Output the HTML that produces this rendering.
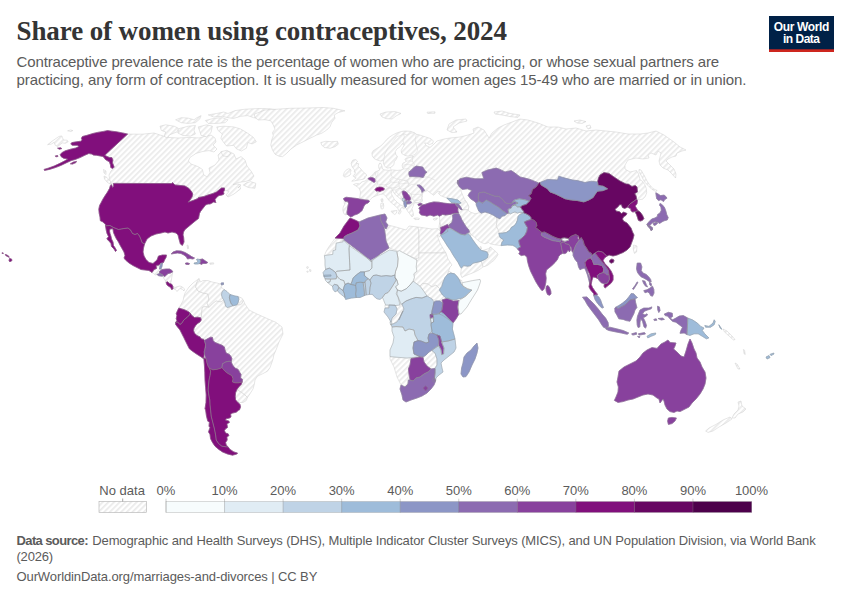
<!DOCTYPE html>
<html lang="en"><head><meta charset="utf-8"><title>Share of women using contraceptives, 2024</title>
<style>html,body{margin:0;padding:0;background:#fff}body{width:850px;height:600px;overflow:hidden}svg{display:block}text{white-space:pre}</style></head><body>
<svg width="850" height="600" viewBox="0 0 850 600">
<defs><pattern id="h" patternUnits="userSpaceOnUse" width="4" height="4" patternTransform="translate(1.18,0) rotate(45)"><rect width="4" height="4" fill="#fff"/><line x1="2.88" y1="-1" x2="2.88" y2="5" stroke="#e7e7e7" stroke-width="1.5"/></pattern></defs>
<rect width="850" height="600" fill="#fff"/>
<text x="16.5" y="40" font-size="27" fill="#343434" font-family='"Liberation Serif", serif' font-weight="bold" textLength="490.5" lengthAdjust="spacing">Share of women using contraceptives, 2024</text>
<text x="16.5" y="67" font-size="15" fill="#5b5b5b" font-family='"Liberation Sans", sans-serif' textLength="702.7" lengthAdjust="spacing">Contraceptive prevalence rate is the percentage of women who are practicing, or whose sexual partners are</text>
<text x="16.5" y="85" font-size="15" fill="#5b5b5b" font-family='"Liberation Sans", sans-serif' textLength="730" lengthAdjust="spacing">practicing, any form of contraception. It is usually measured for women ages 15-49 who are married or in union.</text>
<rect x="769" y="16" width="65" height="36" fill="#002147"/><rect x="769" y="49.3" width="65" height="2.7" fill="#ce261e"/>
<text x="801.5" y="30.5" font-size="12" fill="#fff" font-family='"Liberation Sans", sans-serif' font-weight="bold" text-anchor="middle" textLength="55.5" lengthAdjust="spacing">Our World</text>
<text x="801.5" y="42.5" font-size="12" fill="#fff" font-family='"Liberation Sans", sans-serif' font-weight="bold" text-anchor="middle" textLength="37" lengthAdjust="spacing">in Data</text>
<g stroke-linejoin="round">
<path d="M47.6,144.7L52.9,140.6L58.8,136.5L61.8,135.9L62.4,137.6L63.5,140.0L67.1,140.2L68.2,141.8L65.3,143.3L62.4,142.9L60.0,144.7L57.6,146.5L55.3,145.3L54.1,142.4L51.2,144.1Z" fill="url(#h)" stroke="#cecece" stroke-width="0.5"/>
<path d="M67.6,130.8L70.6,130.0L72.9,130.6L70.8,131.5Z" fill="url(#h)" stroke="#cecece" stroke-width="0.5"/>
<path d="M209.8,263.0L213.5,262.8L213.8,264.0L210.0,264.3Z" fill="url(#h)" stroke="#cecece" stroke-width="0.5"/>
<path d="M187.0,245.0L188.2,245.5L188.6,248.5L187.6,248.8Z" fill="url(#h)" stroke="#cecece" stroke-width="0.5"/>
<path d="M156.0,265.5L159.0,265.0L160.0,266.0L159.5,269.0L161.0,269.0L162.0,269.5L159.5,271.5L159.5,273.5L157.0,274.5L155.5,275.0L153.5,273.5L152.0,272.5L154.0,269.5L156.5,268.5Z" fill="url(#h)" stroke="#cecece" stroke-width="0.5"/>
<path d="M164.5,276.5L166.5,275.0L168.0,273.5L170.5,273.0L172.8,271.8L172.2,275.0L171.5,279.0L171.0,282.5L169.5,283.5L167.5,281.8L166.0,282.5L165.0,280.0L163.5,278.0L163.0,275.2Z" fill="url(#h)" stroke="#cecece" stroke-width="0.5"/>
<path d="M173.0,286.5L175.0,287.5L177.5,286.5L180.0,286.0L182.5,287.0L184.5,289.0L184.0,291.0L182.5,289.5L180.0,288.5L178.5,290.0L177.0,291.5L175.5,289.5L173.5,289.0Z" fill="url(#h)" stroke="#cecece" stroke-width="0.5"/>
<path d="M127.6,134.1L142.0,134.2L154.0,133.0L160.0,135.0L168.0,137.4L178.0,138.0L190.0,137.4L199.0,138.0L206.0,136.0L211.0,135.0L215.0,138.0L216.0,142.0L213.0,145.0L217.0,149.0L214.0,152.0L209.0,150.6L203.0,151.4L196.0,153.4L190.0,157.4L188.4,161.0L191.0,164.0L198.0,166.6L202.4,169.4L203.6,174.6L207.0,177.0L210.0,172.6L209.0,168.0L215.0,165.0L219.0,160.0L218.0,155.0L221.0,152.0L228.0,151.0L234.0,154.0L236.0,159.0L241.0,156.6L245.0,160.0L247.0,166.0L251.0,171.0L254.0,176.0L251.0,180.0L245.0,181.5L238.0,182.5L233.0,184.5L238.0,184.0L241.0,185.0L238.0,188.0L240.0,186.0L240.5,189.0L234.0,194.0L228.0,197.0L226.0,195.0L229.0,191.5L224.5,190.0L224.5,188.0L221.5,188.0L219.0,190.0L216.5,192.0L213.0,193.5L208.0,195.0L204.0,196.5L198.5,197.5L198.0,198.5L193.0,200.5L188.0,202.2L190.0,200.0L192.0,197.0L192.8,194.0L191.5,191.5L189.0,188.5L185.0,186.0L181.0,185.5L175.0,185.0L174.0,184.0L172.4,182.6L172.0,183.6L111.0,184.0L110.0,181.0L109.0,175.0L111.0,171.0L113.6,168.6L114.1,167.1L113.5,165.3L112.4,162.9L112.9,160.0L111.8,157.6L109.4,157.6L104.7,155.3Z" fill="url(#h)" stroke="#cecece" stroke-width="0.5"/>
<path d="M104.0,176.0L107.0,177.5L110.5,181.5L111.0,184.5L107.5,182.5L104.5,179.0Z" fill="url(#h)" stroke="#cecece" stroke-width="0.5"/>
<path d="M103.5,169.5L106.0,171.0L106.0,174.5L104.0,173.0Z" fill="url(#h)" stroke="#cecece" stroke-width="0.5"/>
<path d="M243.3,185.0L247.0,182.5L250.8,181.7L255.8,183.3L255.0,188.3L248.3,187.5Z" fill="url(#h)" stroke="#cecece" stroke-width="0.5"/>
<path d="M160.0,126.2L165.7,124.8L174.2,126.2L178.4,128.3L177.0,131.9L169.9,134.7L167.1,138.2L164.2,136.1L165.7,131.9L161.4,130.5Z" fill="url(#h)" stroke="#cecece" stroke-width="0.5"/>
<path d="M179.1,128.6L188.3,126.2L195.4,125.5L194.0,130.5L195.4,134.0L190.5,136.1L182.7,135.4L177.7,132.9Z" fill="url(#h)" stroke="#cecece" stroke-width="0.5"/>
<path d="M175.6,119.8L181.2,117.7L188.3,118.1L194.0,119.8L196.8,117.7L201.1,115.6L199.7,119.1L195.4,122.7L188.3,123.4L181.2,122.7Z" fill="url(#h)" stroke="#cecece" stroke-width="0.5"/>
<path d="M198.2,126.9L206.7,124.8L212.4,126.2L211.0,132.6L206.7,136.8L201.1,135.4L199.7,131.2Z" fill="url(#h)" stroke="#cecece" stroke-width="0.5"/>
<path d="M205.3,120.5L213.8,118.4L222.3,117.7L228.0,119.8L225.2,122.7L216.7,123.4L208.2,123.4Z" fill="url(#h)" stroke="#cecece" stroke-width="0.5"/>
<path d="M208.2,114.9L216.7,113.5L223.7,112.0L228.0,113.5L235.1,110.6L245.0,109.2L259.2,108.5L270.5,108.8L277.6,109.9L273.3,112.7L264.8,114.9L259.2,118.4L253.5,117.7L247.8,115.6L240.7,116.3L233.7,118.4L228.0,117.7L222.3,116.3L213.8,117.0Z" fill="url(#h)" stroke="#cecece" stroke-width="0.5"/>
<path d="M216.7,126.9L223.7,126.2L233.7,126.9L240.7,129.0L247.8,133.3L253.5,137.5L256.3,141.8L252.1,143.9L247.8,142.5L246.4,148.2L241.4,151.0L236.5,148.9L233.7,145.3L226.6,146.0L223.7,142.5L220.9,138.2L222.3,134.0L218.1,130.5Z" fill="url(#h)" stroke="#cecece" stroke-width="0.5"/>
<path d="M220.9,151.7L226.6,150.3L230.8,153.1L228.0,156.7L223.0,155.9Z" fill="url(#h)" stroke="#cecece" stroke-width="0.5"/>
<path d="M254.2,114.2L265.0,110.0L276.7,109.2L290.0,108.3L306.7,108.0L323.3,107.5L333.3,108.3L345.0,110.8L338.3,112.5L334.2,115.0L335.0,118.3L331.7,122.5L330.0,126.7L326.7,130.0L321.7,133.3L316.7,135.0L310.0,138.3L303.3,141.7L296.7,145.0L290.8,149.2L286.7,153.3L282.5,156.7L279.2,156.3L275.0,154.2L272.5,150.0L270.8,145.0L271.7,140.0L273.3,135.8L272.5,132.5L275.0,129.2L273.3,125.0L270.8,120.8L265.0,119.7L258.3,120.0L255.0,117.5Z" fill="url(#h)" stroke="#cecece" stroke-width="0.5"/>
<path d="M320.8,142.5L325.8,141.3L331.7,141.7L337.5,141.3L338.3,144.2L335.0,146.7L330.0,148.3L324.2,147.5L321.7,145.0Z" fill="url(#h)" stroke="#cecece" stroke-width="0.5"/>
<path d="M236.9,389.4L238.8,390.6L241.9,392.5L245.0,395.0L247.5,397.5L246.2,400.6L243.1,402.5L240.0,402.5L237.5,401.5L235.6,400.0L235.2,396.2L235.6,392.5Z" fill="url(#h)" stroke="#cecece" stroke-width="0.5"/>
<path d="M187.0,290.0L189.0,287.0L193.0,283.0L197.0,280.0L199.0,278.6L197.0,282.0L195.6,287.0L198.0,291.0L203.0,293.0L208.0,294.0L209.0,300.0L207.0,303.0L209.0,307.4L205.0,306.6L202.4,307.4L201.6,313.0L201.2,320.0L200.6,317.8L197.5,317.2L194.4,317.5L191.9,315.6L190.0,313.1L188.8,311.9L185.0,310.0L181.2,308.8L178.8,308.1L180.0,306.0L183.0,301.0L184.0,296.0L185.0,293.0Z" fill="url(#h)" stroke="#cecece" stroke-width="0.5"/>
<path d="M199.0,278.6L200.5,282.0L203.0,280.5L208.0,280.6L212.0,282.0L217.0,283.0L222.0,284.6L221.0,287.0L224.0,289.5L222.0,292.0L221.5,295.0L222.5,298.1L223.8,300.0L221.0,302.0L216.0,301.0L213.0,303.5L209.0,307.4L207.0,303.0L209.0,300.0L208.0,294.0L203.0,293.0L198.0,291.0L195.6,287.0L197.0,282.0Z" fill="url(#h)" stroke="#cecece" stroke-width="0.5"/>
<path d="M238.1,296.5L241.9,298.1L243.5,300.6L241.9,303.8L240.0,305.0L236.9,304.8L238.1,302.5L238.8,299.4Z" fill="url(#h)" stroke="#cecece" stroke-width="0.5"/>
<path d="M209.0,307.4L213.0,303.5L216.0,301.0L221.0,302.0L223.8,300.0L225.0,303.1L225.6,306.2L227.5,307.5L230.6,306.5L233.1,305.6L233.8,305.6L236.9,304.8L240.0,305.0L241.9,303.8L243.5,300.6L245.0,304.0L249.0,310.0L257.0,314.0L266.0,318.0L276.0,322.4L282.0,327.0L283.0,334.0L279.0,342.0L276.0,350.0L273.8,355.0L273.1,358.8L271.9,362.5L270.0,367.5L267.5,371.2L262.5,373.8L257.5,376.2L255.0,380.0L254.4,383.8L253.1,388.8L250.0,393.8L247.5,397.5L245.0,395.0L241.9,392.5L238.8,390.6L236.9,389.4L238.8,386.9L241.2,384.4L242.2,381.9L242.5,379.4L240.6,378.1L241.0,374.4L239.4,371.9L238.1,369.4L235.0,368.1L232.5,365.0L231.2,361.9L231.9,358.8L231.2,356.9L229.4,354.4L226.2,353.1L225.0,350.0L224.4,346.9L221.9,345.2L218.8,344.0L215.0,342.5L213.1,340.6L212.5,337.5L210.6,337.2L207.5,338.8L204.4,340.6L203.8,339.4L201.2,338.8L200.0,336.9L196.9,335.6L194.4,333.1L193.5,330.6L194.0,328.1L195.6,325.6L197.5,323.5L200.0,321.9L201.2,320.0L201.6,313.0L202.4,307.4L205.0,306.6Z" fill="url(#h)" stroke="#cecece" stroke-width="0.5"/>
<path d="M359.8,198.0L360.0,195.5L360.5,192.0L359.5,189.0L357.0,186.5L353.5,184.5L356.5,183.5L360.0,184.0L361.5,182.0L365.0,181.0L368.0,179.0L370.0,177.0L373.0,174.5L375.0,172.0L377.8,170.8L379.7,169.9L378.7,167.6L378.7,164.9L379.7,163.0L381.0,163.5L382.0,166.2L382.4,169.0L384.7,169.9L388.8,170.4L392.5,169.9L397.1,170.4L400.7,170.1L403.5,169.0L402.6,167.6L402.1,165.3L403.0,163.0L404.9,162.6L406.2,161.2L404.9,159.4L406.2,158.0L409.9,157.5L413.6,156.6L411.7,155.7L408.1,156.2L404.4,155.2L401.7,153.4L401.2,150.7L402.6,147.9L404.4,144.7L402.1,143.8L400.3,146.5L397.1,148.8L395.2,151.6L395.7,154.3L397.5,156.6L396.2,159.4L394.3,161.7L393.9,164.4L392.5,166.2L390.2,167.6L387.5,168.1L385.6,167.2L384.2,165.3L383.3,163.0L383.8,160.3L381.0,161.2L377.8,160.3L374.6,158.9L372.3,156.2L371.9,153.0L373.2,150.7L376.9,148.4L380.6,146.1L383.8,142.9L386.5,139.7L389.7,136.9L393.4,134.6L397.1,132.8L401.7,131.4L406.2,131.0L410.8,131.4L414.5,132.8L416.3,134.2L420.0,135.1L425.5,136.9L431.0,138.7L433.3,141.0L432.8,143.3L429.2,144.7L427.3,143.3L424.6,142.9L426.0,145.5L430.0,147.4L434.0,144.0L437.0,141.0L444.0,139.0L450.0,138.0L460.0,137.0L468.0,135.0L474.0,133.0L473.0,129.0L478.0,127.0L484.0,130.0L489.0,138.0L492.0,133.0L498.0,128.0L504.0,125.0L512.0,122.0L520.0,119.0L528.0,120.0L538.0,123.0L548.0,127.0L558.0,127.0L566.0,129.0L576.0,128.0L586.0,131.0L596.0,130.0L606.0,131.0L616.0,132.0L628.0,134.0L640.0,134.0L648.0,133.0L656.0,131.0L664.0,135.0L674.0,142.0L680.0,147.0L686.0,150.0L682.0,151.0L677.0,153.0L676.0,156.0L672.0,157.0L668.0,159.0L666.0,161.0L670.0,165.0L674.0,169.0L676.0,174.0L675.6,178.0L672.0,174.0L668.0,170.0L663.0,168.0L660.0,165.0L659.0,161.0L660.0,157.0L661.0,153.0L658.0,151.0L656.0,155.0L651.0,153.0L648.0,155.0L649.0,158.0L643.0,159.0L636.0,158.0L628.0,160.0L625.0,165.0L625.0,169.0L630.0,172.0L636.5,170.5L638.5,174.0L640.2,180.0L642.1,180.9L644.8,184.6L646.2,188.2L646.7,192.8L645.3,196.5L642.5,199.2L639.3,199.7L636.6,199.2L636.0,197.0L620.0,195.0L560.0,195.0L520.0,190.0L476.0,190.0L462.0,186.0L461.0,191.0L463.0,196.0L465.0,200.0L467.5,203.5L468.8,206.9L468.1,210.0L462.3,210.0L461.3,206.9L458.1,204.0L455.0,203.1L452.0,201.0L448.0,199.0L446.9,197.8L443.8,196.9L440.6,195.6L438.5,193.6L440.0,191.5L437.0,191.8L435.5,193.6L433.8,195.3L430.6,193.1L427.5,190.6L423.8,191.9L422.5,193.8L421.9,197.5L422.5,201.2L420.6,202.5L418.0,203.0L414.4,202.8L413.1,206.2L411.9,208.8L413.1,212.5L413.5,215.5L412.0,217.0L410.5,215.0L409.6,213.6L407.7,211.3L406.3,208.9L405.4,207.5L404.4,206.1L403.9,203.8L403.9,201.4L402.5,200.9L401.1,199.5L398.8,197.6L395.9,195.3L393.6,192.5L392.6,190.1L391.7,191.5L391.2,193.4L392.6,196.2L394.5,199.5L397.4,202.4L400.2,204.7L403.0,206.1L404.9,208.0L403.9,208.9L402.1,207.5L400.2,208.9L401.1,211.8L399.7,214.1L398.3,213.6L399.2,211.3L397.8,208.5L395.5,206.1L392.6,203.8L389.8,201.4L387.5,198.6L385.6,195.8L383.2,193.9L380.4,194.4L377.6,195.3L375.2,196.2L372.9,197.2L370.5,199.1L369.1,200.9Z" fill="url(#h)" stroke="#cecece" stroke-width="0.5"/>
<path d="M352.9,160.0L355.8,159.6L357.5,161.2L356.2,163.3L358.8,163.8L357.9,166.2L360.0,167.9L361.7,170.0L363.8,172.5L366.2,174.2L366.7,175.8L364.6,176.7L365.4,177.9L363.3,179.2L360.0,179.8L356.7,180.4L353.8,181.0L351.7,181.2L354.6,179.2L356.2,177.9L354.2,177.1L352.9,175.8L355.0,174.2L355.4,172.1L354.2,172.1L354.6,170.0L352.9,167.9L351.7,165.8L351.2,163.3L352.1,161.2Z" fill="url(#h)" stroke="#cecece" stroke-width="0.5"/>
<path d="M343.3,175.8L344.2,172.5L345.8,170.4L348.3,168.8L350.4,169.2L351.2,171.2L350.0,172.1L350.8,173.8L349.6,175.4L346.7,176.7L344.6,177.1Z" fill="url(#h)" stroke="#cecece" stroke-width="0.5"/>
<path d="M381.0,199.0L382.8,198.8L383.0,201.5L381.8,202.2L381.2,200.8Z" fill="url(#h)" stroke="#cecece" stroke-width="0.5"/>
<path d="M380.8,203.5L383.2,203.0L383.8,206.0L383.0,209.0L381.2,208.8L380.6,206.0Z" fill="url(#h)" stroke="#cecece" stroke-width="0.5"/>
<path d="M391.0,211.2L394.0,210.8L397.0,210.5L396.5,213.0L394.8,214.5L392.5,213.0Z" fill="url(#h)" stroke="#cecece" stroke-width="0.5"/>
<path d="M447.0,130.0L449.0,124.0L456.0,120.0L466.0,119.0L467.0,121.0L459.0,123.0L453.0,127.0L457.0,132.0L452.0,132.6Z" fill="url(#h)" stroke="#cecece" stroke-width="0.5"/>
<path d="M380.0,114.0L386.0,112.0L395.0,111.6L401.0,113.4L396.0,116.0L392.0,119.0L386.0,118.6L382.0,117.0Z" fill="url(#h)" stroke="#cecece" stroke-width="0.5"/>
<path d="M427.0,112.2L435.0,111.8L435.0,113.2L427.6,113.4Z" fill="url(#h)" stroke="#cecece" stroke-width="0.5"/>
<path d="M494.0,112.0L502.0,111.0L510.0,113.4L520.0,115.0L518.0,117.4L510.0,116.6L502.0,115.0L495.0,114.0Z" fill="url(#h)" stroke="#cecece" stroke-width="0.5"/>
<path d="M574.0,121.0L580.0,120.0L586.0,121.6L582.0,123.4L577.0,123.0Z" fill="url(#h)" stroke="#cecece" stroke-width="0.5"/>
<path d="M586.0,126.0L590.0,125.0L591.0,128.0L588.0,129.0Z" fill="url(#h)" stroke="#cecece" stroke-width="0.5"/>
<path d="M639.0,169.5L641.0,170.0L644.0,175.0L647.0,181.0L649.4,184.6L653.1,188.7L657.2,190.5L655.8,191.5L651.7,189.2L648.0,185.5L644.4,181.8L641.5,176.0L639.0,172.0Z" fill="url(#h)" stroke="#cecece" stroke-width="0.5"/>
<path d="M344.0,201.2L347.8,201.5L348.5,203.5L348.0,206.0L347.5,209.0L347.0,212.0L347.2,214.5L345.0,214.8L343.5,213.0L342.8,210.0L343.2,207.0L344.5,204.5L344.2,202.5Z" fill="url(#h)" stroke="#cecece" stroke-width="0.5"/>
<path d="M439.4,216.2L442.5,214.4L445.6,215.0L450.0,214.4L455.0,213.1L452.8,218.8L451.9,222.5L448.8,225.0L447.5,224.4L443.8,226.2L440.6,227.5L439.8,222.5Z" fill="url(#h)" stroke="#cecece" stroke-width="0.5"/>
<path d="M439.8,222.5L440.6,227.5L441.0,230.0L440.2,233.8L439.4,230.6L439.0,226.2Z" fill="url(#h)" stroke="#cecece" stroke-width="0.5"/>
<path d="M461.2,203.1L465.0,200.0L467.5,203.8L468.8,206.9L468.1,210.0L465.0,209.8L462.2,209.8L460.6,206.9L458.5,204.0Z" fill="url(#h)" stroke="#cecece" stroke-width="0.5"/>
<path d="M458.5,213.1L457.8,210.6L460.6,209.4L462.2,209.8L465.0,209.8L468.1,210.0L470.0,211.9L475.0,213.8L478.8,212.8L481.2,213.1L485.0,211.9L488.8,213.1L493.1,215.0L496.9,217.5L496.9,222.5L496.2,226.2L498.1,229.4L498.8,232.5L498.8,233.8L501.9,236.9L503.8,238.8L501.9,241.2L501.2,244.4L501.2,245.6L495.0,244.8L490.0,243.8L488.8,242.5L485.0,243.8L481.2,242.5L477.5,240.0L474.4,236.9L471.2,234.4L469.4,231.9L468.8,228.8L468.8,230.0L466.2,226.9L463.8,223.1L461.9,220.0L460.6,216.9L458.8,213.8Z" fill="url(#h)" stroke="#cecece" stroke-width="0.5"/>
<path d="M496.9,217.5L500.0,218.8L501.9,216.2L505.0,215.6L508.1,213.5L510.6,213.8L512.5,212.8L515.0,211.9L517.5,213.1L520.0,212.2L523.1,212.8L520.0,214.4L518.1,216.2L517.5,220.0L516.2,223.1L514.4,225.6L511.2,227.5L510.0,230.0L506.2,232.5L502.5,233.1L498.8,232.5L498.1,229.4L496.2,226.2L496.9,222.5Z" fill="url(#h)" stroke="#cecece" stroke-width="0.5"/>
<path d="M468.1,233.5L470.2,233.2L471.2,235.6L469.8,236.5Z" fill="url(#h)" stroke="#cecece" stroke-width="0.5"/>
<path d="M461.2,268.1L463.8,265.6L467.5,266.2L470.6,265.6L473.1,263.1L476.2,262.5L481.2,261.2L482.5,264.4L483.1,266.9L478.8,270.0L473.8,272.5L468.8,274.4L464.4,276.2L461.9,277.5L460.6,274.4L461.0,271.2Z" fill="url(#h)" stroke="#cecece" stroke-width="0.5"/>
<path d="M481.2,261.2L485.0,259.4L487.5,257.5L488.1,254.4L486.9,251.9L488.8,250.0L490.6,246.9L492.5,248.8L496.2,251.9L498.1,254.4L496.2,257.5L493.8,260.6L491.2,262.5L488.1,265.0L485.6,266.2L483.1,266.9L482.5,264.4Z" fill="url(#h)" stroke="#cecece" stroke-width="0.5"/>
<path d="M481.9,250.6L485.0,249.8L488.8,248.5L490.6,246.9L488.8,250.0L486.9,251.9Z" fill="url(#h)" stroke="#cecece" stroke-width="0.5"/>
<path d="M479.8,246.9L481.0,246.5L481.5,249.0L480.2,249.5Z" fill="url(#h)" stroke="#cecece" stroke-width="0.5"/>
<path d="M738.0,402.0L741.0,401.0L742.0,406.0L746.0,409.0L743.0,412.0L738.0,414.0L735.0,418.0L732.0,418.0L734.0,414.0L738.0,410.0L739.0,406.0Z" fill="url(#h)" stroke="#cecece" stroke-width="0.5"/>
<path d="M730.0,417.0L732.0,419.0L726.0,423.0L719.0,427.0L713.0,431.0L708.0,432.4L705.6,431.0L709.0,428.0L716.0,424.4L723.0,420.0Z" fill="url(#h)" stroke="#cecece" stroke-width="0.5"/>
<path d="M735.0,363.0L737.0,364.0L740.0,369.0L738.0,369.0Z" fill="url(#h)" stroke="#cecece" stroke-width="0.5"/>
<path d="M335.0,238.5L343.1,238.8L343.1,241.9L336.2,243.1L335.6,250.0L333.1,250.6L332.8,254.4L324.4,255.6L326.2,251.2L328.8,246.9L331.9,242.5Z" fill="url(#h)" stroke="#cecece" stroke-width="0.5"/>
<path d="M386.0,229.0L388.0,225.0L396.0,227.0L406.0,230.0L409.0,226.0L418.0,227.0L419.0,233.0L419.0,253.0L419.0,258.0L416.0,258.6L397.0,250.6L389.0,248.0L386.0,241.0L385.0,233.0L384.0,227.0Z" fill="url(#h)" stroke="#cecece" stroke-width="0.5"/>
<path d="M418.0,227.0L432.0,229.0L438.0,228.6L441.0,232.0L440.0,237.0L437.0,235.0L440.0,243.0L444.0,250.0L446.0,253.0L419.0,253.0L419.0,233.0Z" fill="url(#h)" stroke="#cecece" stroke-width="0.5"/>
<path d="M419.0,253.0L446.0,253.0L448.0,259.0L452.0,265.0L450.0,267.0L448.0,273.0L445.0,280.0L442.0,284.0L440.0,289.0L436.0,285.0L432.0,287.0L428.0,284.0L422.4,283.4L420.0,286.2L415.6,283.0L413.2,281.2L414.4,277.4L413.8,273.8L416.8,271.2L416.2,266.8L416.8,260.0L416.0,258.6L419.0,258.0Z" fill="url(#h)" stroke="#cecece" stroke-width="0.5"/>
<path d="M420.0,286.2L422.4,283.4L428.0,284.0L432.0,287.0L436.0,285.0L440.0,289.0L443.0,294.0L448.0,298.0L442.0,300.0L436.0,301.0L432.0,299.0L427.0,296.0L423.8,291.2Z" fill="url(#h)" stroke="#cecece" stroke-width="0.5"/>
<path d="M385.0,305.0L389.0,305.0L389.0,308.0L385.0,308.0Z" fill="url(#h)" stroke="#cecece" stroke-width="0.5"/>
<path d="M395.0,305.0L401.0,304.0L402.0,304.0L404.0,309.0L401.0,315.0L399.0,320.0L403.0,311.0L400.0,317.0L397.0,322.0L393.0,324.0L391.0,324.0L390.0,321.0L392.0,319.0L396.0,314.0L395.0,309.0L392.0,318.0L396.0,314.0L397.0,309.0Z" fill="url(#h)" stroke="#cecece" stroke-width="0.5"/>
<path d="M447.5,274.4L448.8,271.2L450.6,272.2L455.0,275.0L459.4,278.8L461.2,281.2L460.0,280.0L459.4,280.0L456.9,276.2L454.4,273.8L450.6,273.1Z" fill="url(#h)" stroke="#cecece" stroke-width="0.5"/>
<path d="M460.0,280.0L461.9,280.6L461.9,282.8L460.6,283.1Z" fill="url(#h)" stroke="#cecece" stroke-width="0.5"/>
<path d="M423.0,357.4L426.0,355.0L429.0,352.0L432.0,350.6L435.0,353.0L437.0,359.0L437.0,365.0L435.0,368.6L431.0,369.0L427.0,366.0L424.0,362.0Z" fill="url(#h)" stroke="#cecece" stroke-width="0.5"/>
<path d="M390.0,356.6L399.0,357.4L407.0,358.0L414.0,357.4L420.0,356.6L420.0,357.4L411.0,358.6L410.0,365.0L408.4,369.0L408.0,384.0L405.0,387.0L401.0,385.0L397.0,377.0L394.0,367.0L390.0,359.0Z" fill="url(#h)" stroke="#cecece" stroke-width="0.5"/>
<path d="M633.6,245.0L637.0,246.0L636.6,252.0L634.4,253.4L633.2,249.0Z" fill="url(#h)" stroke="#cecece" stroke-width="0.5"/>
<path d="M306.5,267.0L308.0,266.5L308.3,268.0L307.0,268.5Z" fill="url(#h)" stroke="#cecece" stroke-width="0.5"/>
<path d="M309.5,269.5L311.0,269.8L310.8,271.5L309.6,271.2Z" fill="url(#h)" stroke="#cecece" stroke-width="0.5"/>
<path d="M307.0,271.0L308.3,271.3L308.0,272.4L306.8,272.0Z" fill="url(#h)" stroke="#cecece" stroke-width="0.5"/>
<path d="M413.8,218.3L417.0,217.9L419.4,218.5L419.0,219.5L415.0,219.6Z" fill="url(#h)" stroke="#cecece" stroke-width="0.5"/>
<path d="M433.1,219.0L435.0,218.3L437.5,218.0L436.5,219.6L434.0,220.2Z" fill="url(#h)" stroke="#cecece" stroke-width="0.5"/>
<path d="M723.0,329.0L727.0,331.0L732.0,336.0L735.0,339.5L733.5,340.0L729.0,336.0L724.5,332.0Z" fill="url(#h)" stroke="#cecece" stroke-width="0.5"/>
<path d="M743.3,349.5L744.5,350.0L745.3,354.5L744.2,354.0Z" fill="url(#h)" stroke="#cecece" stroke-width="0.5"/>
<g fill="none" stroke="#d9d9d9" stroke-width="0.5">
<path d="M378.1,172.2L377.6,175.1L376.2,176.9L375.7,179.3L377.1,181.2L377.6,184.0L380.4,184.5L383.2,184.9L386.1,184.7"/>
<path d="M386.1,184.7L388.9,184.0L391.2,182.1L389.8,179.3L392.2,176.9L390.8,174.1L391.2,170.4L390.3,167.1"/>
<path d="M392.2,176.9L396.4,178.8L400.2,179.5L403.9,180.4L407.7,180.0L410.1,177.4L409.1,174.1L408.2,169.9"/>
<path d="M391.2,182.1L395.5,182.6L398.8,181.8L400.2,179.5"/>
<path d="M386.1,184.7L386.5,186.8L388.9,187.3L392.6,188.0L396.4,187.5L399.2,185.6L398.8,183.1L398.8,181.8"/>
<path d="M398.8,183.1L400.2,184.0L403.9,183.5L407.2,183.1L407.7,181.2L403.9,180.4"/>
<path d="M399.2,185.6L399.2,187.8L401.6,189.2L404.9,188.7L407.7,186.8L409.1,184.0L407.2,183.1"/>
<path d="M407.7,186.8L411.5,184.5L416.2,184.0L419.9,185.9L421.8,189.2L423.0,192.5L420.9,194.1L416.2,194.5L411.5,194.1L408.2,192.0L405.8,189.4L404.9,188.7"/>
<path d="M411.5,194.1L411.5,197.6L413.4,200.0L417.1,200.5L420.9,199.5L422.3,196.5L420.9,194.1"/>
<path d="M407.7,181.2L409.1,184.0"/>
<path d="M410.1,177.4L411.5,177.7L416.2,178.4L420.9,177.9L426.5,176.8L430.3,177.9L435.0,180.2"/>
<path d="M377.6,184.0L376.2,186.8L375.2,189.2L377.1,192.5L377.6,195.3"/>
<path d="M377.1,192.5L380.4,191.7L384.4,190.3L387.5,188.4L391.2,188.2L392.6,188.0"/>
<path d="M391.2,188.2L392.6,190.1L395.5,189.9L399.2,188.2L401.6,189.4"/>
<path d="M395.5,190.1L396.9,192.9L399.7,195.3L401.6,197.2"/>
<path d="M375.2,172.4L376.2,176.9"/>
<path d="M370.5,180.2L373.8,182.4L377.1,181.2"/>
<path d="M413.4,200.0L415.2,202.4L419.0,202.8"/>
<path d="M405.3,161.2L409.9,160.7L412.7,161.7"/>
<path d="M402.6,165.3L406.2,164.4L410.8,164.9L413.6,166.2"/>
<path d="M403.5,169.0L408.1,168.5L410.8,169.9L412.7,168.1L413.6,166.2"/>
<path d="M416.3,134.2L415.0,139.7L416.3,145.2L417.7,150.7L415.0,154.3L412.2,155.7"/>
<path d="M383.8,160.3L384.7,154.3L387.9,147.9L392.5,142.4L396.6,136.9L401.2,135.1L403.5,133.7"/>
<path d="M403.5,133.7L404.4,136.9L403.0,140.1L403.5,143.3L402.1,143.8"/>
<path d="M403.5,133.7L407.2,135.1L410.8,133.2L414.5,132.8"/>
<path d="M412.2,156.6L412.7,161.7L414.5,164.4L413.6,166.2"/>
</g>
<path d="M127.6,134.1L122.4,132.9L116.5,131.8L111.8,131.2L107.6,130.6L103.5,131.4L97.6,132.4L92.9,133.5L87.1,135.3L82.4,136.5L81.4,138.2L82.1,140.0L80.9,141.2L76.5,141.8L71.8,142.6L70.8,144.1L72.4,145.3L77.6,145.3L78.8,146.5L75.9,148.0L70.6,149.2L65.3,150.8L61.8,152.7L60.2,154.7L61.2,156.7L63.5,158.2L67.6,159.1L65.3,160.6L60.0,163.3L54.1,166.1L48.2,168.2L44.1,169.4L44.5,170.4L49.4,169.4L55.3,167.6L61.2,165.3L67.1,162.4L71.2,160.6L75.3,159.4L80.0,157.6L84.7,155.3L88.8,153.5L91.8,154.1L93.5,155.1L96.5,155.3L100.0,155.9L102.9,156.5L104.1,157.6L105.3,159.4L107.1,160.6L109.4,161.8L110.4,164.7L110.8,167.6L112.7,168.5L114.1,167.1L113.5,165.3L112.4,162.9L112.9,160.0L111.8,157.6L109.4,157.6L106.5,156.2L104.7,155.3Z" fill="#810f7c" stroke="#810f7c" stroke-width="0.6"/>
<path d="M57.6,148.2L60.6,147.8L61.8,148.6L59.4,149.2Z" fill="#810f7c" stroke="#810f7c" stroke-width="0.6"/>
<path d="M55.3,155.9L57.6,155.5L57.9,156.5L55.9,156.8Z" fill="#810f7c" stroke="#810f7c" stroke-width="0.6"/>
<path d="M70.4,163.8L73.5,162.1L76.5,161.4L75.9,162.6L72.4,164.1Z" fill="#810f7c" stroke="#810f7c" stroke-width="0.6"/>
<path d="M115.0,183.4L172.0,183.6L172.4,182.6L174.0,184.0L175.0,185.0L181.0,185.5L185.0,186.0L189.0,188.5L191.5,191.5L192.8,194.0L192.0,197.0L190.0,200.0L188.0,202.2L193.0,200.5L198.0,198.5L198.5,197.5L204.0,196.5L208.0,195.0L213.0,193.5L216.5,192.0L219.0,190.0L221.5,188.0L224.5,188.0L224.5,190.0L223.5,192.0L224.0,194.0L222.0,195.0L219.0,195.5L217.0,197.0L215.0,199.5L215.5,201.5L216.0,202.5L213.5,202.0L212.0,203.0L210.0,204.0L208.0,204.0L205.5,205.0L204.0,207.0L202.0,209.5L200.5,211.5L199.5,213.5L199.0,216.0L198.5,218.5L196.5,220.0L194.0,222.0L191.0,224.5L188.0,227.0L185.0,229.5L183.5,232.0L183.0,235.0L183.6,237.0L184.0,242.0L182.4,245.4L180.4,244.0L179.0,239.0L178.0,235.0L176.0,233.0L172.0,232.0L168.0,233.0L165.0,232.0L161.0,233.0L156.0,234.0L151.0,236.0L147.0,239.0L144.5,244.0L142.0,242.5L141.0,239.5L139.5,236.0L137.5,233.5L135.0,234.5L132.5,233.5L130.5,230.0L128.0,228.0L124.0,228.5L118.5,229.5L113.5,227.5L110.0,225.5L105.5,225.8L105.4,224.2L102.5,221.7L100.4,220.8L100.0,217.1L99.2,213.3L98.8,209.2L99.6,205.4L101.2,202.5L102.9,199.2L105.0,195.8L107.5,192.1L109.6,188.3L110.4,185.4L111.6,184.8L112.6,187.4L113.6,186.2L113.4,183.4Z" fill="#810f7c" stroke="#810f7c" stroke-width="0.6"/>
<path d="M105.5,225.8L110.0,225.5L113.5,227.5L118.5,229.5L124.0,228.5L128.0,228.0L130.5,230.0L132.5,233.5L135.0,234.5L137.5,233.5L139.5,236.0L141.0,239.5L142.0,242.5L144.5,244.0L143.5,248.0L143.0,252.0L144.0,256.0L146.0,259.5L149.0,262.5L153.0,263.5L157.0,260.0L158.5,256.0L162.5,255.0L166.5,255.0L166.0,257.5L164.5,260.0L163.5,262.5L160.5,263.5L159.0,265.0L156.0,265.5L156.5,268.5L154.0,269.5L152.0,272.5L149.0,270.5L145.0,270.0L141.0,269.5L137.0,267.5L133.0,265.5L129.0,263.0L125.5,260.0L124.0,258.0L125.0,255.5L124.0,252.0L122.0,248.5L120.0,245.0L118.5,242.0L116.5,239.0L115.0,236.0L113.5,232.5L113.0,229.0L112.5,228.8L110.0,229.0L109.5,231.0L110.0,233.5L111.0,236.5L111.5,239.0L113.0,242.0L113.5,245.5L115.5,248.5L116.5,250.5L115.5,251.5L114.0,249.0L111.5,246.5L111.0,243.5L109.0,241.0L106.8,239.0L108.5,236.5L107.0,233.5L106.2,230.0Z" fill="#810f7c" stroke="#810f7c" stroke-width="0.6"/>
<path d="M171.2,254.0L173.0,252.0L176.5,250.8L181.0,251.0L185.0,252.5L188.5,254.5L191.5,256.5L194.5,258.0L193.0,259.0L190.0,258.5L187.5,259.0L186.5,257.0L184.0,255.0L181.0,253.5L177.5,253.0L174.0,253.5Z" fill="#88419d" stroke="#88419d" stroke-width="0.6"/>
<path d="M185.0,263.5L187.0,262.8L189.5,263.5L189.0,264.5L186.5,264.5Z" fill="#88419d" stroke="#88419d" stroke-width="0.6"/>
<path d="M197.0,259.0L200.0,259.5L201.0,261.0L200.0,263.5L197.5,264.0L194.5,264.0L194.0,263.0L197.0,262.5L198.0,261.0L196.5,260.0Z" fill="#9ebcda" stroke="#9ebcda" stroke-width="0.6"/>
<path d="M200.0,259.5L202.5,259.0L205.5,261.0L207.8,262.5L206.0,263.5L203.0,263.5L201.0,264.5L200.0,263.5L201.0,261.0Z" fill="#88419d" stroke="#88419d" stroke-width="0.6"/>
<path d="M160.5,263.5L162.5,263.0L162.0,266.5L161.0,269.0L159.5,269.0L160.0,266.0Z" fill="#8c96c6" stroke="#8c96c6" stroke-width="0.6"/>
<path d="M159.5,271.5L162.0,269.5L166.0,269.0L169.5,269.0L171.5,270.0L172.8,271.8L170.5,273.0L168.0,273.5L166.5,275.0L164.5,276.5L163.0,275.2L161.0,274.0L159.5,273.5Z" fill="#88419d" stroke="#88419d" stroke-width="0.6"/>
<path d="M157.0,274.5L159.5,273.5L161.0,274.0L163.0,275.2L162.5,276.2L160.0,276.0L158.0,275.5Z" fill="#8c6bb1" stroke="#8c6bb1" stroke-width="0.6"/>
<path d="M166.0,282.5L167.5,281.8L169.5,283.5L171.5,284.0L172.8,286.0L173.0,289.0L171.5,289.5L170.8,287.5L169.0,286.5L167.0,285.0Z" fill="#810f7c" stroke="#810f7c" stroke-width="0.6"/>
<path d="M178.8,308.1L181.2,308.8L185.0,310.0L188.8,311.9L190.0,313.1L189.4,315.0L186.9,317.5L183.8,320.0L181.9,323.1L180.0,324.4L177.5,321.9L175.6,322.5L176.9,320.6L176.2,318.8L176.9,315.6L176.2,313.8L177.5,310.6Z" fill="#810f7c" stroke="#810f7c" stroke-width="0.6"/>
<path d="M190.0,313.1L191.9,315.6L194.4,317.5L197.5,317.2L200.6,317.8L201.2,320.0L200.0,321.9L197.5,323.5L195.6,325.6L194.0,328.1L193.5,330.6L194.4,333.1L196.9,335.6L200.0,336.9L201.2,338.8L203.8,339.4L204.4,340.6L205.6,344.4L205.0,347.5L204.8,351.2L204.0,355.0L203.8,359.0L203.0,358.2L200.0,356.2L196.2,353.8L192.5,351.2L189.4,348.8L187.5,345.0L185.6,341.2L183.8,337.5L181.9,333.8L180.0,330.0L177.5,326.9L175.6,324.4L175.6,322.5L177.5,321.9L180.0,324.4L181.9,323.1L183.8,320.0L186.9,317.5L189.4,315.0Z" fill="#810f7c" stroke="#810f7c" stroke-width="0.6"/>
<path d="M204.4,340.6L207.5,338.8L210.6,337.2L212.5,337.5L213.1,340.6L215.0,342.5L218.8,344.0L221.9,345.2L224.4,346.9L225.0,350.0L226.2,353.1L229.4,354.4L231.2,356.9L231.9,358.8L231.2,361.9L229.4,361.2L225.6,361.9L222.5,363.8L221.9,367.5L220.0,368.5L216.2,369.4L212.8,369.8L209.4,368.1L208.1,366.2L206.9,362.5L206.2,358.8L205.5,357.5L204.0,352.0L205.5,347.0L205.6,344.4Z" fill="#88419d" stroke="#88419d" stroke-width="0.6"/>
<path d="M221.9,367.5L222.5,363.8L225.6,361.9L229.4,361.2L231.2,361.9L232.5,365.0L235.0,368.1L238.1,369.4L239.4,371.9L241.0,374.4L240.6,378.1L242.5,379.4L242.2,381.9L238.8,382.8L235.0,382.8L232.5,381.9L233.1,378.8L231.9,375.6L228.1,373.5L225.0,371.2Z" fill="#88419d" stroke="#88419d" stroke-width="0.6"/>
<path d="M203.1,357.5L206.2,358.8L206.9,362.5L208.1,366.2L209.4,368.1L210.6,371.2L210.0,375.6L209.0,380.0L208.5,385.0L208.1,390.0L208.8,395.0L209.8,400.0L210.0,405.0L210.6,410.0L211.2,416.2L212.8,422.5L214.4,428.8L215.6,435.0L216.2,440.0L218.8,443.8L221.9,446.2L226.9,446.9L228.1,446.9L230.0,449.4L233.8,451.9L237.5,453.1L236.9,454.0L232.5,455.2L227.5,454.0L222.5,451.9L218.8,449.4L215.0,446.2L212.5,442.5L210.6,438.8L210.0,434.4L208.5,431.9L210.0,427.5L209.0,426.2L209.4,421.9L207.8,421.2L206.5,416.2L205.6,410.0L205.0,408.8L206.0,402.5L206.2,395.0L205.6,387.5L205.0,380.0L204.8,372.5L204.4,365.0L203.8,358.1Z" fill="#810f7c" stroke="#810f7c" stroke-width="0.6"/>
<path d="M209.4,368.1L212.8,369.8L216.2,369.4L220.0,368.5L221.9,367.5L225.0,371.2L228.1,373.5L231.9,375.6L233.1,378.8L232.5,381.9L235.0,382.8L238.8,382.8L242.2,381.9L241.2,384.4L238.8,386.9L236.9,389.4L235.6,392.5L235.2,396.2L235.6,400.0L237.5,401.9L240.0,404.4L240.6,406.9L239.4,410.0L238.8,410.0L236.2,412.2L232.5,413.1L230.6,414.0L231.0,416.9L229.4,418.1L226.0,418.8L225.6,420.2L228.8,421.0L229.4,422.5L226.9,423.8L227.5,427.5L225.6,428.8L224.4,430.6L225.6,433.1L228.1,433.8L229.0,435.6L226.9,436.9L227.2,440.0L225.6,442.5L226.2,445.0L228.1,446.9L226.9,446.9L221.9,446.2L218.8,443.8L216.2,440.0L215.6,435.0L214.4,428.8L212.8,422.5L211.2,416.2L210.6,410.0L210.0,405.0L209.8,400.0L208.8,395.0L208.1,390.0L208.5,385.0L209.0,380.0L210.0,375.6L210.6,371.2L209.4,368.1Z" fill="#810f7c" stroke="#810f7c" stroke-width="0.6"/>
<path d="M224.0,289.5L227.0,291.5L230.0,294.5L229.4,297.5L230.0,300.6L231.2,303.8L233.1,305.6L230.6,306.5L227.5,307.5L225.6,306.2L225.0,303.1L223.8,300.0L222.5,298.1L221.5,295.0L222.0,292.0Z" fill="#bfd3e6" stroke="#bfd3e6" stroke-width="0.6"/>
<path d="M230.0,294.5L235.0,296.0L238.1,296.5L238.8,299.4L238.1,302.5L236.9,304.8L233.8,305.6L233.1,305.6L231.2,303.8L230.0,300.6L229.4,297.5Z" fill="#9ebcda" stroke="#9ebcda" stroke-width="0.6"/>
<path d="M221.0,283.0L223.5,282.8L223.5,284.5L221.5,285.0Z" fill="#8c96c6" stroke="#8c96c6" stroke-width="0.6"/>
<path d="M343.5,198.5L346.0,197.2L351.0,197.8L357.0,198.5L362.0,199.5L365.0,200.0L368.5,200.2L369.5,201.5L368.0,203.0L365.5,204.0L364.0,206.0L363.0,208.5L362.0,210.5L360.0,212.5L357.5,214.0L354.5,215.0L352.0,216.5L350.5,217.0L349.0,215.5L347.5,214.5L347.2,214.5L347.0,212.0L347.5,209.0L348.0,206.0L348.5,203.5L347.8,201.5L345.0,201.2L344.0,200.0Z" fill="#88419d" stroke="#88419d" stroke-width="0.6"/>
<path d="M368.0,178.4L370.5,177.4L372.9,177.7L374.8,178.8L375.2,181.2L374.3,182.4L372.4,181.5L370.5,180.2L368.9,179.6Z" fill="#88419d" stroke="#88419d" stroke-width="0.6"/>
<path d="M375.0,189.4L376.6,187.8L379.5,187.1L382.3,187.3L384.4,188.7L383.7,190.1L381.8,190.6L379.9,191.5L378.1,190.9L376.2,191.1Z" fill="#810f7c" stroke="#810f7c" stroke-width="0.6"/>
<path d="M402.1,191.5L403.9,190.9L406.3,192.0L408.2,194.4L409.6,196.2L410.5,198.1L410.1,200.0L408.6,200.9L407.2,200.0L406.3,200.9L405.4,200.7L405.4,199.5L403.9,198.1L403.5,196.2L402.5,193.9Z" fill="#88419d" stroke="#88419d" stroke-width="0.6"/>
<path d="M402.1,198.6L403.9,198.1L404.9,200.0L403.9,201.4L402.5,200.9Z" fill="#bfd3e6" stroke="#bfd3e6" stroke-width="0.6"/>
<path d="M403.9,201.4L405.4,200.7L406.3,201.9L406.6,204.2L406.3,206.6L405.4,207.5L404.4,206.1L403.9,203.8Z" fill="#8c96c6" stroke="#8c96c6" stroke-width="0.6"/>
<path d="M406.6,201.4L408.6,200.9L411.0,201.4L411.5,202.8L409.6,203.8L406.8,204.0Z" fill="#8c6bb1" stroke="#8c6bb1" stroke-width="0.6"/>
<path d="M409.1,171.8L411.5,169.9L413.8,167.5L416.2,166.1L419.9,166.6L422.8,167.1L424.2,169.4L425.6,171.3L427.0,172.2L425.1,173.6L424.6,175.1L423.2,177.4L419.9,176.9L416.2,176.8L412.4,176.5L409.6,176.5L408.8,174.1Z" fill="#8c6bb1" stroke="#8c6bb1" stroke-width="0.6"/>
<path d="M417.1,185.2L419.5,184.9L421.8,186.4L423.7,188.7L424.6,190.6L423.2,191.1L422.0,192.5L421.4,190.1L419.9,188.2L418.5,186.8Z" fill="#8c6bb1" stroke="#8c6bb1" stroke-width="0.6"/>
<path d="M421.9,205.0L425.0,204.4L428.8,203.1L433.8,201.9L438.8,202.2L443.8,203.1L450.0,203.8L455.0,203.5L456.2,205.6L458.1,207.5L457.8,210.6L458.5,213.1L455.0,213.1L450.0,214.4L445.6,215.0L442.5,214.4L439.4,216.2L437.5,215.0L433.8,216.2L430.0,215.0L426.9,216.2L425.0,215.6L421.2,215.0L419.4,212.8L420.0,210.0L418.8,208.1L420.6,206.5Z" fill="#88419d" stroke="#88419d" stroke-width="0.6"/>
<path d="M417.8,204.5L420.0,203.2L422.2,203.8L421.2,205.0L418.8,206.0Z" fill="#88419d" stroke="#88419d" stroke-width="0.6"/>
<path d="M446.9,198.1L452.5,198.8L458.1,200.0L461.2,203.1L458.1,203.8L455.0,203.1L451.2,202.5L448.8,200.0Z" fill="#9ebcda" stroke="#9ebcda" stroke-width="0.6"/>
<path d="M455.6,203.8L458.5,204.0L460.6,206.9L462.2,209.8L460.6,209.4L458.1,206.9L456.2,205.6Z" fill="#8c6bb1" stroke="#8c6bb1" stroke-width="0.6"/>
<path d="M452.5,215.0L455.0,213.5L458.8,213.8L460.6,216.9L461.9,220.0L463.8,223.1L466.2,226.9L468.8,230.0L469.4,232.2L467.5,233.1L465.0,235.0L461.2,234.4L456.9,231.9L453.1,229.4L449.4,227.5L448.8,225.0L451.9,222.5L452.8,218.8Z" fill="#8c6bb1" stroke="#8c6bb1" stroke-width="0.6"/>
<path d="M440.6,227.5L443.8,226.2L447.5,224.4L449.4,227.5L446.9,229.4L448.1,231.2L445.0,233.1L441.9,234.8L440.2,233.8L441.0,230.0Z" fill="#88419d" stroke="#88419d" stroke-width="0.6"/>
<path d="M440.6,235.0L443.8,232.5L446.9,228.8L450.0,228.5L455.0,231.2L460.0,234.0L465.0,235.0L468.1,233.5L470.0,235.6L472.5,239.4L475.6,243.8L478.1,246.9L480.0,249.4L481.9,250.6L486.9,251.9L488.1,254.4L487.5,257.5L485.0,259.4L481.2,261.2L476.2,262.5L473.1,263.1L470.6,265.6L467.5,266.2L463.8,265.6L461.2,268.1L460.0,266.2L458.1,262.5L455.6,258.8L453.1,255.0L450.6,250.6L447.5,246.2L444.4,241.2L441.9,237.5Z" fill="#9ebcda" stroke="#9ebcda" stroke-width="0.6"/>
<path d="M457.5,181.2L460.0,178.8L466.2,177.2L475.0,178.8L483.8,178.8L481.9,172.5L487.5,170.0L496.2,168.1L500.0,169.4L505.0,171.9L511.2,170.6L515.0,173.1L520.0,176.9L525.0,178.1L530.0,179.4L536.2,181.9L538.8,183.1L536.2,186.9L532.5,189.4L531.2,193.8L528.8,195.6L531.2,198.3L528.8,201.2L525.0,199.8L519.4,198.8L514.4,200.0L511.9,203.1L508.8,203.8L505.6,203.1L502.5,199.4L498.8,196.2L495.0,196.2L490.0,194.4L483.8,191.9L478.8,193.1L478.1,197.5L478.8,201.2L476.2,203.1L474.4,201.2L470.6,198.8L468.1,195.6L469.4,193.1L471.9,190.6L467.5,188.8L462.5,189.4L459.4,186.9L457.2,183.1L457.8,180.0L459.0,185.0Z" fill="#8c6bb1" stroke="#8c6bb1" stroke-width="0.6"/>
<path d="M478.8,193.1L483.8,191.9L490.0,194.4L495.0,196.2L498.8,196.2L502.5,199.4L505.6,203.1L508.8,203.8L511.9,203.1L514.4,201.2L518.1,203.1L515.0,204.4L512.5,205.6L511.2,208.1L508.1,209.4L508.8,213.1L506.9,213.5L502.5,210.6L498.1,206.9L493.8,204.4L490.0,201.9L486.2,200.0L482.5,203.1L478.8,201.2L478.1,197.5Z" fill="#8c6bb1" stroke="#8c6bb1" stroke-width="0.6"/>
<path d="M476.2,205.0L476.2,203.1L478.8,201.2L482.5,203.1L486.2,200.0L490.0,201.9L493.8,204.4L498.1,206.9L502.5,210.6L506.9,213.5L505.0,215.6L501.9,216.2L500.0,218.8L496.9,217.5L493.1,215.0L488.8,213.1L485.0,211.9L481.2,213.1L478.8,211.2L477.5,208.1Z" fill="#8c96c6" stroke="#8c96c6" stroke-width="0.6"/>
<path d="M511.9,203.1L514.4,200.0L519.4,198.8L525.0,199.8L529.4,201.5L526.2,204.4L522.5,205.6L520.6,206.9L517.5,206.9L515.0,205.0L512.5,205.6L515.0,204.4L518.1,203.1L514.4,201.2Z" fill="#9ebcda" stroke="#9ebcda" stroke-width="0.6"/>
<path d="M508.1,209.4L511.2,208.1L512.5,205.6L515.0,205.0L517.5,206.9L520.6,206.9L521.9,209.4L523.8,211.2L523.1,212.8L520.0,212.2L517.5,213.1L515.0,211.9L512.5,212.8L510.6,213.8L508.8,213.1Z" fill="#bfd3e6" stroke="#bfd3e6" stroke-width="0.6"/>
<path d="M501.2,245.6L501.9,242.5L503.8,240.0L500.0,237.5L498.8,233.5L502.5,233.1L506.2,232.5L510.0,230.0L511.2,227.5L514.4,225.6L516.2,223.1L517.5,220.0L518.1,216.2L520.0,214.4L523.8,212.8L526.2,213.8L529.4,215.6L531.0,217.5L531.2,219.4L527.5,220.6L524.4,221.9L525.6,224.4L527.5,227.5L526.9,231.2L525.0,235.0L521.9,238.1L518.8,240.6L519.4,243.8L520.6,246.9L517.5,248.8L515.0,246.5L512.5,245.3L507.5,245.0L504.0,245.3Z" fill="#9ebcda" stroke="#9ebcda" stroke-width="0.6"/>
<path d="M531.2,219.4L533.8,220.0L536.2,222.5L536.9,225.6L535.6,227.5L538.8,230.0L541.9,232.5L541.2,235.0L543.8,236.9L548.1,238.8L552.5,240.6L556.9,241.2L560.2,241.9L560.6,239.0L561.9,238.5L562.2,240.6L565.0,241.2L568.5,240.2L568.5,238.5L571.2,236.2L575.6,234.4L578.8,236.2L577.5,238.1L579.4,240.0L577.5,242.5L575.6,245.6L574.4,248.8L573.1,252.5L571.9,251.2L571.2,247.5L570.0,246.2L568.8,244.4L565.6,243.8L563.8,241.9L560.6,243.1L561.5,247.5L562.2,251.2L563.1,253.1L560.6,254.4L558.8,256.2L557.5,259.4L555.0,262.5L551.9,265.6L548.8,268.1L546.5,270.0L545.6,273.8L546.2,278.1L545.8,282.5L545.0,286.2L543.8,289.4L542.1,290.8L540.6,289.0L538.8,286.5L536.0,282.0L533.1,276.2L530.6,271.2L528.8,266.2L527.5,261.2L526.9,256.9L524.4,255.0L521.2,255.6L518.8,253.8L520.0,251.9L517.5,248.8L520.6,246.9L519.4,243.8L518.8,240.6L521.9,238.1L525.0,235.0L526.9,231.2L527.5,227.5L525.6,224.4L524.4,221.9L527.5,220.6Z" fill="#88419d" stroke="#88419d" stroke-width="0.6"/>
<path d="M541.9,232.5L544.4,231.9L548.1,233.8L552.5,236.2L556.9,238.1L560.6,239.0L560.2,241.9L556.9,241.2L552.5,240.6L548.1,238.8L543.8,236.9L541.2,235.0Z" fill="#8c6bb1" stroke="#8c6bb1" stroke-width="0.6"/>
<path d="M561.9,238.5L564.4,237.8L568.1,238.5L568.5,240.2L565.0,241.2L562.2,240.6Z" fill="#f7fcfd" stroke="#f7fcfd" stroke-width="0.6"/>
<path d="M560.6,243.1L563.8,241.9L565.6,243.8L568.8,244.4L570.0,246.2L570.6,250.0L569.4,251.9L568.1,250.0L566.2,253.1L563.8,253.8L563.1,253.1L562.2,251.2L561.5,247.5Z" fill="#88419d" stroke="#88419d" stroke-width="0.6"/>
<path d="M546.5,286.0L548.0,285.5L549.5,287.5L550.8,291.0L551.0,294.0L549.5,295.3L547.5,294.5L546.2,291.0L546.0,288.0Z" fill="#88419d" stroke="#88419d" stroke-width="0.6"/>
<path d="M579.4,240.0L581.2,237.5L583.1,240.6L584.4,245.0L586.2,247.5L588.8,251.9L591.2,253.1L592.5,255.6L590.0,258.1L586.9,259.4L585.0,262.5L585.6,265.6L586.9,268.8L588.1,273.8L590.0,278.8L590.6,282.5L589.8,283.8L588.8,280.0L587.5,275.0L585.6,270.0L584.4,268.1L581.9,268.8L580.0,269.8L578.5,266.9L577.5,262.5L575.0,259.4L573.1,255.6L573.1,252.5L574.4,248.8L575.6,245.6L577.5,242.5Z" fill="#8c6bb1" stroke="#8c6bb1" stroke-width="0.6"/>
<path d="M529.4,201.5L531.2,198.3L528.8,195.6L531.2,193.8L532.5,189.4L536.2,186.9L538.8,183.1L540.0,182.5L541.2,185.0L547.5,188.8L550.0,191.9L555.0,193.8L560.0,196.2L565.0,198.8L571.2,200.0L577.5,200.6L583.8,201.9L588.8,200.0L593.1,197.5L595.0,194.4L597.5,191.2L603.1,190.6L607.5,188.8L603.1,186.2L598.1,185.6L597.5,181.9L598.5,178.0L600.0,175.0L604.0,172.6L609.0,173.4L614.0,177.0L620.0,181.0L626.0,184.0L628.3,184.1L632.0,186.4L635.2,185.5L637.0,186.9L637.5,191.9L634.7,193.7L636.1,196.0L636.6,199.2L633.4,201.5L630.6,203.4L628.3,205.7L627.9,207.0L624.7,208.4L622.4,207.5L621.5,204.7L619.6,204.7L617.8,207.0L615.0,209.3L616.4,211.2L619.2,211.6L621.5,213.5L623.7,212.1L627.0,213.5L626.0,215.3L623.7,216.7L622.4,219.0L623.7,221.2L627.0,223.0L631.0,228.0L632.5,232.0L634.0,235.0L633.0,239.0L631.5,243.0L630.0,247.0L627.0,250.0L623.0,252.5L617.0,255.0L613.0,256.0L609.0,255.0L606.9,256.2L605.0,254.4L602.5,251.9L598.1,251.2L595.0,253.1L592.5,255.6L591.2,253.1L588.8,251.9L586.2,247.5L584.4,245.0L583.1,240.6L581.2,237.5L579.4,240.0L578.8,236.2L575.6,234.4L571.2,236.2L568.5,238.5L564.4,237.8L561.9,238.1L560.6,239.0L556.9,238.1L552.5,236.2L548.1,233.8L544.4,231.9L541.9,232.5L538.8,230.0L535.6,227.5L536.9,225.6L536.2,222.5L533.8,220.0L531.2,219.4L531.0,217.5L529.4,215.6L526.2,213.8L523.8,212.8L523.8,211.2L521.9,209.4L520.6,206.9L522.5,205.6L526.2,204.4Z" fill="#670662" stroke="#670662" stroke-width="0.6"/>
<path d="M540.0,182.5L547.5,179.4L557.5,180.0L558.8,176.2L565.0,178.1L572.5,180.0L577.5,180.6L585.0,182.5L591.2,181.2L597.5,181.9L598.1,185.6L603.1,186.2L607.5,188.8L603.1,190.6L597.5,191.2L595.0,194.4L593.1,197.5L588.8,200.0L583.8,201.9L577.5,200.6L571.2,200.0L565.0,198.8L560.0,196.2L555.0,193.8L550.0,191.9L547.5,188.8L541.2,185.0Z" fill="#8c96c6" stroke="#8c96c6" stroke-width="0.6"/>
<path d="M627.9,207.0L628.3,205.7L630.6,203.4L633.4,201.5L636.6,199.2L637.5,200.6L637.0,203.8L635.2,206.1L636.6,208.4L638.0,210.7L635.2,211.6L632.5,212.1L631.1,210.7L630.6,208.4L628.8,208.0Z" fill="#810f7c" stroke="#810f7c" stroke-width="0.6"/>
<path d="M635.2,211.6L638.0,210.7L640.2,212.1L642.5,215.3L643.9,218.5L642.5,220.3L640.2,221.1L638.4,220.3L637.5,217.6L636.6,214.8L635.7,213.0Z" fill="#670662" stroke="#670662" stroke-width="0.6"/>
<path d="M655.8,192.8L657.7,193.7L660.4,195.6L664.1,195.1L666.4,197.0L666.8,198.3L664.5,199.7L663.6,201.5L660.9,199.7L658.6,200.6L656.7,198.8L656.3,196.5Z" fill="#8c6bb1" stroke="#8c6bb1" stroke-width="0.6"/>
<path d="M660.0,203.4L662.2,204.7L664.5,207.5L665.9,211.2L666.8,214.8L668.2,217.6L667.3,219.9L664.1,220.8L661.3,222.2L660.0,223.5L657.7,222.2L654.9,221.7L652.2,223.1L650.3,224.9L648.0,225.4L646.7,224.5L649.0,221.7L651.7,219.0L654.9,218.0L657.2,216.7L657.7,214.4L660.0,213.0L661.3,210.2L660.9,207.0L659.5,205.2Z" fill="#8c6bb1" stroke="#8c6bb1" stroke-width="0.6"/>
<path d="M647.1,224.9L649.4,225.4L651.2,226.7L652.6,227.7L652.2,230.0L650.8,230.2L649.9,228.1L648.5,227.2Z" fill="#8c6bb1" stroke="#8c6bb1" stroke-width="0.6"/>
<path d="M653.1,223.5L656.3,222.3L657.7,223.1L655.8,224.9L654.0,225.4Z" fill="#8c6bb1" stroke="#8c6bb1" stroke-width="0.6"/>
<path d="M649.0,225.5L651.0,227.0L652.5,229.5L651.0,230.5Z" fill="#8c6bb1" stroke="#8c6bb1" stroke-width="0.6"/>
<path d="M585.0,262.5L587.5,259.4L590.6,258.1L592.5,260.6L593.8,264.4L597.5,264.4L601.9,265.6L603.8,268.8L603.1,272.5L599.4,273.8L597.2,275.6L598.1,278.8L595.6,277.5L593.1,276.9L591.9,280.6L591.2,284.4L592.5,287.5L595.0,291.2L597.5,294.4L596.2,295.6L593.8,295.6L593.8,293.8L590.6,290.0L589.0,286.9L589.8,282.5L590.6,278.1L589.4,273.8L587.5,270.0L585.6,266.2Z" fill="#810f7c" stroke="#810f7c" stroke-width="0.6"/>
<path d="M590.6,258.1L593.1,254.4L595.0,253.1L597.5,256.2L600.0,259.4L603.1,263.1L606.2,266.9L608.5,270.6L609.0,274.4L606.9,275.0L605.0,273.1L603.1,272.5L603.8,268.8L601.9,265.6L597.5,264.4L593.8,264.4L592.5,260.6Z" fill="#8c6bb1" stroke="#8c6bb1" stroke-width="0.6"/>
<path d="M595.0,253.1L598.1,251.2L602.5,251.9L605.0,254.4L606.9,256.2L604.4,258.1L603.1,260.6L605.0,263.8L608.1,266.9L611.2,271.2L613.1,275.6L613.1,280.0L611.2,283.1L608.1,285.6L605.0,288.1L604.0,286.2L604.4,283.8L607.5,283.1L609.4,279.4L609.0,274.4L608.5,270.6L606.2,266.9L603.1,263.1L600.0,259.4L597.5,256.2Z" fill="#810f7c" stroke="#810f7c" stroke-width="0.6"/>
<path d="M597.2,275.6L599.4,273.8L603.1,272.5L605.0,273.1L606.9,275.0L609.0,274.4L609.4,279.4L607.5,283.1L604.4,283.8L601.2,282.8L598.8,280.0L598.1,278.8Z" fill="#88419d" stroke="#88419d" stroke-width="0.6"/>
<path d="M609.8,260.2L611.9,259.0L614.0,260.0L613.5,262.2L611.2,263.2L609.5,262.0Z" fill="#670662" stroke="#670662" stroke-width="0.6"/>
<path d="M593.8,295.6L596.2,294.8L598.8,296.9L600.6,300.0L601.9,303.8L603.5,307.5L601.9,308.1L599.4,305.6L596.9,302.5L595.0,299.4Z" fill="#8c96c6" stroke="#8c96c6" stroke-width="0.6"/>
<path d="M616.2,306.9L618.8,305.6L622.5,303.1L626.2,300.0L628.8,296.9L631.2,293.5L633.8,293.8L636.2,296.5L637.5,297.5L635.0,299.0L632.5,299.4L630.0,300.0L627.5,302.5L625.0,305.0L621.2,306.9L618.1,308.8Z" fill="#8c96c6" stroke="#8c96c6" stroke-width="0.6"/>
<path d="M614.8,308.1L616.2,306.9L618.1,308.8L621.2,306.9L625.0,305.0L627.5,302.5L630.0,300.0L632.5,299.4L635.0,299.0L635.6,302.5L636.9,307.5L635.0,310.0L633.8,313.8L631.9,317.5L630.0,321.2L626.2,320.6L623.1,319.4L618.8,318.8L616.9,315.0L615.0,311.9Z" fill="#8c6bb1" stroke="#8c6bb1" stroke-width="0.6"/>
<path d="M582.5,297.2L586.9,296.9L590.0,300.0L593.8,303.8L598.1,308.8L601.9,313.8L605.6,318.1L608.1,322.5L608.5,326.2L606.9,328.1L603.8,327.5L601.9,325.0L598.8,320.0L595.0,315.0L591.2,310.0L587.5,305.0L585.0,300.6Z" fill="#8c6bb1" stroke="#8c6bb1" stroke-width="0.6"/>
<path d="M637.2,263.1L640.6,263.1L641.9,266.9L641.2,270.6L643.1,273.1L646.2,274.4L648.8,276.9L650.6,279.4L651.2,281.9L648.8,281.2L646.2,279.4L643.8,278.1L641.2,276.9L639.4,275.0L637.5,272.5L636.5,268.8L636.9,265.6Z" fill="#8c6bb1" stroke="#8c6bb1" stroke-width="0.6"/>
<path d="M642.5,280.6L645.0,281.2L646.2,284.4L647.5,286.9L645.6,286.2L643.8,283.8Z" fill="#8c6bb1" stroke="#8c6bb1" stroke-width="0.6"/>
<path d="M649.4,281.9L651.5,283.8L651.2,286.2L649.8,285.0Z" fill="#8c6bb1" stroke="#8c6bb1" stroke-width="0.6"/>
<path d="M643.8,290.6L646.9,289.8L650.0,288.1L652.5,286.2L653.8,289.4L654.0,293.1L652.5,296.2L650.6,295.6L649.4,293.1L647.5,291.9L645.0,292.8Z" fill="#8c6bb1" stroke="#8c6bb1" stroke-width="0.6"/>
<path d="M632.5,288.8L635.0,285.6L637.2,281.9L637.9,282.5L635.6,286.2L633.5,289.4Z" fill="#8c6bb1" stroke="#8c6bb1" stroke-width="0.6"/>
<path d="M637.5,316.2L640.0,310.0L643.8,308.1L648.8,308.1L651.9,306.9L651.2,308.8L647.5,310.0L644.4,311.2L642.5,313.8L645.0,315.0L646.9,313.8L647.5,315.0L645.0,316.9L643.1,317.5L645.0,321.2L646.5,325.6L645.6,328.1L644.0,326.9L642.5,321.2L640.6,318.8L640.0,322.5L639.8,326.9L638.1,327.5L637.2,325.0L636.9,320.0Z" fill="#8c6bb1" stroke="#8c6bb1" stroke-width="0.6"/>
<path d="M657.5,306.2L659.4,306.9L660.0,310.6L658.8,312.5L657.8,310.0Z" fill="#8c6bb1" stroke="#8c6bb1" stroke-width="0.6"/>
<path d="M653.8,319.4L656.2,318.8L656.9,320.2L654.4,320.6Z" fill="#8c6bb1" stroke="#8c6bb1" stroke-width="0.6"/>
<path d="M658.1,318.5L662.5,318.1L664.4,319.4L661.2,320.0Z" fill="#8c6bb1" stroke="#8c6bb1" stroke-width="0.6"/>
<path d="M605.7,328.0L609.9,327.2L616.5,328.8L623.1,330.5L628.8,333.0L627.2,334.3L621.4,333.0L614.8,331.7L609.0,330.5L606.2,329.3Z" fill="#8c6bb1" stroke="#8c6bb1" stroke-width="0.6"/>
<path d="M631.7,333.8L636.3,332.6L636.6,334.3L632.6,335.1Z" fill="#8c6bb1" stroke="#8c6bb1" stroke-width="0.6"/>
<path d="M638.3,333.8L644.5,332.6L645.4,334.0L639.2,335.1Z" fill="#8c6bb1" stroke="#8c6bb1" stroke-width="0.6"/>
<path d="M637.6,336.3L639.9,336.6L639.2,337.9Z" fill="#8c6bb1" stroke="#8c6bb1" stroke-width="0.6"/>
<path d="M647.0,336.3L651.1,333.8L655.8,333.0L655.3,334.6L651.1,336.3L647.8,337.9Z" fill="#9ebcda" stroke="#9ebcda" stroke-width="0.6"/>
<path d="M664.3,314.0L668.5,312.3L672.3,313.2L672.6,316.5L670.1,318.1L672.6,319.8L675.9,318.1L679.2,316.1L683.3,315.6L687.8,318.1L687.1,334.6L684.2,333.0L680.0,333.3L680.9,330.5L682.5,327.2L679.2,324.7L675.9,322.2L672.6,321.4L670.1,318.9L667.6,316.1L665.2,315.6Z" fill="#8c6bb1" stroke="#8c6bb1" stroke-width="0.6"/>
<path d="M687.8,318.1L692.4,319.8L697.4,323.1L700.7,326.4L704.0,328.0L702.3,330.5L704.8,333.8L708.9,337.9L706.4,338.8L702.3,336.3L698.2,333.8L694.1,333.8L689.9,335.4L687.1,334.6Z" fill="#9ebcda" stroke="#9ebcda" stroke-width="0.6"/>
<path d="M704.8,325.5L708.9,326.4L713.0,323.1L714.2,319.8L715.2,321.4L714.2,324.7L710.6,327.2L705.6,327.2Z" fill="#9ebcda" stroke="#9ebcda" stroke-width="0.6"/>
<path d="M718.8,324.7L720.5,327.2L721.8,329.3L720.1,328.0Z" fill="#9ebcda" stroke="#9ebcda" stroke-width="0.6"/>
<path d="M619.0,371.0L624.0,367.0L630.0,364.0L636.0,361.0L640.0,357.0L643.0,353.0L647.0,350.0L652.0,347.6L657.0,348.4L661.0,344.0L665.0,342.0L668.0,340.0L670.0,342.4L676.0,343.0L675.0,346.0L673.6,349.0L677.0,352.0L681.0,356.0L684.0,357.0L686.0,351.0L688.0,344.0L690.0,339.0L692.0,343.0L694.0,349.0L696.0,353.0L697.0,358.0L700.0,362.0L702.0,367.0L705.0,372.0L706.0,378.0L705.0,384.0L703.0,389.0L700.0,394.0L696.0,399.0L692.0,403.0L689.0,407.0L685.0,409.0L680.0,411.6L677.0,411.0L674.0,412.4L670.0,411.6L667.0,409.0L665.0,405.0L664.0,401.0L663.0,399.0L660.0,403.0L659.0,399.0L657.0,398.0L653.0,395.0L648.0,394.0L643.0,395.0L638.0,397.0L633.0,399.0L628.0,400.0L623.0,401.6L618.0,402.4L614.4,400.4L616.0,397.0L618.0,392.0L618.4,387.0L617.0,382.0L618.0,377.0Z" fill="#88419d" stroke="#88419d" stroke-width="0.6"/>
<path d="M668.4,418.0L672.0,417.4L676.4,418.0L675.0,421.0L672.0,423.6L668.4,424.4L667.6,421.0Z" fill="#88419d" stroke="#88419d" stroke-width="0.6"/>
<path d="M766.0,357.0L769.0,355.6L770.0,357.6L767.0,359.0Z" fill="#9ebcda" stroke="#9ebcda" stroke-width="0.6"/>
<path d="M770.0,354.4L773.6,353.0L774.0,354.0L771.0,355.6Z" fill="#9ebcda" stroke="#9ebcda" stroke-width="0.6"/>
<path d="M335.0,238.0L340.0,233.0L344.0,226.0L350.0,218.0L355.0,220.0L359.0,222.0L360.0,226.0L358.0,230.0L352.0,233.0L347.0,235.0L344.0,237.0L344.0,238.6Z" fill="#810f7c" stroke="#810f7c" stroke-width="0.6"/>
<path d="M359.0,222.0L368.0,218.0L380.0,215.0L381.0,221.0L384.0,227.0L385.0,233.0L386.0,241.0L389.0,248.0L380.0,254.0L372.0,261.0L370.6,261.6L368.0,258.6L360.0,252.0L352.0,246.0L344.0,240.0L344.0,237.0L347.0,235.0L352.0,233.0L358.0,230.0L360.0,226.0Z" fill="#8c6bb1" stroke="#8c6bb1" stroke-width="0.6"/>
<path d="M380.0,215.0L385.0,214.0L387.0,218.0L385.6,222.0L388.0,225.0L386.0,229.0L384.4,227.0L381.0,221.0Z" fill="#8c6bb1" stroke="#8c6bb1" stroke-width="0.6"/>
<path d="M324.4,255.6L332.8,254.4L333.1,250.6L335.6,250.0L336.2,243.1L343.1,241.9L343.1,240.0L349.4,245.6L349.0,248.8L350.0,270.0L336.9,271.2L335.6,272.5L332.5,270.0L329.4,268.1L325.6,269.4L325.0,265.0L325.0,260.0Z" fill="#e0ecf4" stroke="#e0ecf4" stroke-width="0.6"/>
<path d="M349.4,245.6L370.6,260.6L371.9,261.2L371.9,268.1L369.4,270.6L364.4,271.9L360.6,271.9L356.2,275.0L353.1,278.1L351.9,281.9L350.6,284.4L348.1,283.1L345.6,284.4L345.0,284.4L343.8,280.6L340.0,279.4L336.9,276.2L335.6,272.5L336.9,271.2L350.0,270.0L349.0,248.8Z" fill="#e0ecf4" stroke="#e0ecf4" stroke-width="0.6"/>
<path d="M371.9,261.2L370.6,260.6L389.4,250.0L396.2,251.2L396.9,251.9L398.1,258.8L397.5,266.2L395.6,271.2L395.0,275.0L391.2,276.2L386.2,275.6L381.2,276.2L376.2,275.0L373.1,275.6L371.2,278.1L370.0,280.0L368.1,278.8L366.2,276.9L364.4,275.6L364.4,271.9L369.4,270.6L371.9,268.1Z" fill="#e0ecf4" stroke="#e0ecf4" stroke-width="0.6"/>
<path d="M396.9,251.9L399.4,250.6L416.9,260.0L416.2,266.9L416.9,271.2L413.8,273.8L414.4,277.5L413.1,281.2L410.0,285.0L406.2,288.8L401.2,291.2L397.5,290.0L395.6,286.9L398.1,284.4L396.9,280.0L395.0,277.5L395.0,275.0L395.6,271.2L397.5,266.2L398.1,258.8Z" fill="#f7fcfd" stroke="#f7fcfd" stroke-width="0.6"/>
<path d="M323.1,272.5L325.6,269.4L329.4,268.1L332.5,270.0L335.6,272.5L336.9,276.2L336.2,278.8L331.2,278.8L327.5,279.0L325.0,278.8L323.8,276.2Z" fill="#bfd3e6" stroke="#bfd3e6" stroke-width="0.6"/>
<path d="M324.1,275.2L331.0,274.9L331.0,276.1L324.1,276.6Z" fill="#9ebcda" stroke="#9ebcda" stroke-width="0.6"/>
<path d="M325.0,278.8L327.5,279.0L330.6,279.4L330.0,281.9L327.5,282.5L325.6,280.6Z" fill="#e0ecf4" stroke="#e0ecf4" stroke-width="0.6"/>
<path d="M327.5,282.5L330.0,281.9L330.6,279.4L336.2,278.8L336.9,276.2L340.0,279.4L343.8,280.6L345.0,284.4L343.8,287.5L343.1,290.6L340.6,288.8L338.8,287.5L337.5,285.0L334.4,284.4L332.5,286.2L330.6,285.0Z" fill="#e0ecf4" stroke="#e0ecf4" stroke-width="0.6"/>
<path d="M332.5,286.2L334.4,284.4L337.5,285.0L338.8,287.5L337.5,290.6L335.0,291.9L333.1,289.4Z" fill="#bfd3e6" stroke="#bfd3e6" stroke-width="0.6"/>
<path d="M337.5,290.6L338.8,287.5L340.6,288.8L343.1,290.6L344.4,293.8L345.0,297.5L341.9,295.0L338.8,292.5Z" fill="#bfd3e6" stroke="#bfd3e6" stroke-width="0.6"/>
<path d="M343.8,287.5L345.0,284.4L348.1,283.1L350.6,284.4L353.8,285.0L355.6,285.6L356.2,290.0L355.6,293.8L356.2,297.5L351.2,298.1L345.6,299.4L345.0,297.5L344.4,293.8L343.1,290.6Z" fill="#9ebcda" stroke="#9ebcda" stroke-width="0.6"/>
<path d="M350.6,284.4L351.9,281.9L353.1,278.1L356.2,275.0L360.6,271.9L364.4,271.9L364.4,275.6L366.2,276.9L368.1,278.8L365.6,280.6L365.0,282.2L363.1,282.5L360.0,282.2L356.2,282.8L355.6,285.6L353.8,285.0Z" fill="#9ebcda" stroke="#9ebcda" stroke-width="0.6"/>
<path d="M355.6,285.6L356.2,282.8L360.0,282.2L363.1,282.5L363.8,287.5L364.4,292.5L364.4,295.6L360.0,297.5L356.2,297.5L355.6,293.8L356.2,290.0Z" fill="#9ebcda" stroke="#9ebcda" stroke-width="0.6"/>
<path d="M363.1,282.5L365.0,282.2L365.6,287.5L366.2,295.0L364.4,295.6L364.4,292.5L363.8,287.5Z" fill="#bfd3e6" stroke="#bfd3e6" stroke-width="0.6"/>
<path d="M365.0,282.2L365.6,280.6L368.1,278.8L370.0,280.0L371.0,283.1L370.0,287.5L369.4,294.4L366.2,295.0L365.6,287.5Z" fill="#bfd3e6" stroke="#bfd3e6" stroke-width="0.6"/>
<path d="M370.0,280.0L371.2,278.1L373.1,275.6L376.2,275.0L381.2,276.2L386.2,275.6L391.2,276.2L395.0,275.0L395.0,277.5L396.2,280.0L394.4,283.1L392.5,286.2L390.0,290.0L388.1,292.5L385.0,293.8L382.5,297.5L380.0,299.4L376.9,298.8L373.8,296.2L372.5,294.4L369.4,294.4L370.0,287.5L371.0,283.1Z" fill="#bfd3e6" stroke="#bfd3e6" stroke-width="0.6"/>
<path d="M395.0,277.5L396.9,280.0L398.1,284.4L395.6,286.9L397.5,290.0L396.2,293.8L398.1,297.5L399.4,302.5L400.0,305.0L395.0,305.6L390.0,305.0L385.6,305.0L383.8,300.6L382.5,297.5L385.0,293.8L388.1,292.5L390.0,290.0L392.5,286.2L394.4,283.1L396.2,280.0Z" fill="#e0ecf4" stroke="#e0ecf4" stroke-width="0.6"/>
<path d="M397.5,290.0L401.2,291.2L406.2,288.8L410.0,285.0L413.2,281.2L415.6,283.0L420.0,286.2L423.8,291.2L427.0,296.0L422.0,298.0L416.0,297.4L411.0,299.0L406.0,301.0L402.0,304.0L401.0,304.0L399.0,299.0L397.0,294.0Z" fill="#e0ecf4" stroke="#e0ecf4" stroke-width="0.6"/>
<path d="M385.0,308.0L389.0,308.0L389.0,305.0L395.0,305.0L397.0,309.0L396.0,314.0L392.0,318.0L391.0,322.0L388.0,317.0L384.0,312.0Z" fill="#bfd3e6" stroke="#bfd3e6" stroke-width="0.6"/>
<path d="M402.0,304.0L406.0,301.0L411.0,299.0L416.0,297.4L422.0,298.0L427.0,296.0L432.0,299.0L434.0,302.0L433.0,307.0L432.0,311.0L431.6,314.6L430.4,318.6L431.2,323.0L431.0,325.0L432.0,331.0L429.0,334.0L428.0,338.0L429.0,342.0L426.0,343.0L421.0,341.0L418.0,340.6L415.0,335.0L414.0,330.0L409.0,329.0L405.0,331.0L403.0,327.0L396.0,326.6L392.0,327.0L391.0,324.0L393.0,324.0L397.0,322.0L400.0,317.0L403.0,311.0L399.0,320.0L401.0,315.0L404.0,309.0Z" fill="#bfd3e6" stroke="#bfd3e6" stroke-width="0.6"/>
<path d="M434.0,302.0L436.0,301.0L440.0,301.0L443.0,303.0L442.0,310.0L439.0,314.0L434.0,314.6L431.6,314.6L432.0,311.0L433.0,307.0Z" fill="#8c96c6" stroke="#8c96c6" stroke-width="0.6"/>
<path d="M442.0,300.0L448.0,298.0L453.0,301.0L459.0,300.6L458.0,307.0L459.0,314.0L456.0,319.0L453.0,323.0L448.0,319.0L442.0,315.0L439.0,314.0L442.0,310.0L443.0,303.0Z" fill="#88419d" stroke="#88419d" stroke-width="0.6"/>
<path d="M430.0,314.6L433.0,314.0L433.6,317.4L430.4,318.6Z" fill="#88419d" stroke="#88419d" stroke-width="0.6"/>
<path d="M430.4,318.6L433.2,317.8L433.6,322.0L431.2,323.0Z" fill="#e0ecf4" stroke="#e0ecf4" stroke-width="0.6"/>
<path d="M433.0,314.0L437.0,314.0L441.0,312.0L444.0,314.0L448.0,318.0L453.0,323.0L452.4,329.0L454.0,335.0L455.0,339.0L448.0,341.0L441.6,342.0L440.0,336.0L437.0,335.0L432.0,333.0L432.0,331.0L431.0,325.0L431.2,323.0L433.6,322.0L433.6,317.4Z" fill="#9ebcda" stroke="#9ebcda" stroke-width="0.6"/>
<path d="M439.4,290.0L441.9,286.2L443.1,281.9L445.0,277.5L447.5,274.4L450.6,273.1L454.4,273.8L456.9,276.2L459.4,280.0L460.6,283.1L463.1,286.2L467.5,288.8L471.9,290.0L468.8,293.1L465.6,296.2L462.5,298.1L458.8,298.8L455.0,299.8L450.6,299.4L446.2,298.1L442.5,295.0Z" fill="#9ebcda" stroke="#9ebcda" stroke-width="0.6"/>
<path d="M461.9,282.8L466.2,281.9L472.5,280.6L480.0,279.4L480.6,281.2L479.4,285.0L477.5,290.0L474.4,295.0L471.2,300.0L467.0,307.0L461.0,314.0L459.0,314.0L458.0,307.0L459.0,300.6L465.6,296.2L468.8,293.1L471.9,290.0L467.5,288.8L463.1,286.2Z" fill="#f7fcfd" stroke="#f7fcfd" stroke-width="0.6"/>
<path d="M392.0,327.0L396.0,326.6L403.0,327.0L405.0,331.0L409.0,329.0L414.0,330.0L415.0,335.0L418.0,340.6L414.0,342.0L413.0,348.0L414.0,354.0L420.0,356.6L414.0,357.4L407.0,358.0L399.0,357.4L390.0,356.6L390.0,350.0L393.0,343.0L394.0,337.0L392.0,331.0Z" fill="#e0ecf4" stroke="#e0ecf4" stroke-width="0.6"/>
<path d="M390.0,322.0L391.6,321.8L392.0,324.6L390.6,325.0Z" fill="#e0ecf4" stroke="#e0ecf4" stroke-width="0.6"/>
<path d="M418.0,340.6L421.0,341.0L426.0,343.0L429.0,342.0L428.0,338.0L429.0,334.0L432.0,333.0L437.0,335.0L439.0,340.0L438.0,346.0L435.0,348.0L432.0,350.0L429.0,352.0L426.0,355.0L423.0,357.0L420.0,356.6L414.0,354.0L413.0,348.0L414.0,342.0Z" fill="#8c96c6" stroke="#8c96c6" stroke-width="0.6"/>
<path d="M437.0,335.0L440.0,336.0L441.6,342.0L444.0,348.0L443.6,354.0L441.6,354.6L441.0,350.0L439.0,346.0L439.0,340.0Z" fill="#88419d" stroke="#88419d" stroke-width="0.6"/>
<path d="M441.6,342.0L448.0,341.0L455.0,339.0L456.0,348.0L454.0,352.0L449.0,356.0L444.0,360.0L441.0,363.0L442.0,368.0L443.0,372.0L439.0,375.0L436.0,378.0L435.6,381.0L434.4,378.0L435.0,373.0L435.0,368.6L437.0,365.0L437.0,359.0L435.0,353.0L432.0,350.6L435.0,348.0L438.0,346.0L439.0,346.0L441.0,350.0L441.6,354.6L443.6,354.0L444.0,348.0Z" fill="#bfd3e6" stroke="#bfd3e6" stroke-width="0.6"/>
<path d="M411.0,358.6L420.0,357.0L423.0,357.4L424.0,362.0L427.0,366.0L431.0,369.0L428.0,372.0L424.0,374.0L420.0,377.0L416.0,378.0L413.0,381.0L410.0,380.0L409.0,374.0L408.4,369.0L410.0,365.0Z" fill="#88419d" stroke="#88419d" stroke-width="0.6"/>
<path d="M401.0,385.0L405.0,387.0L408.0,384.0L408.4,380.0L410.0,380.0L413.0,381.0L416.0,378.0L420.0,377.0L424.0,374.0L428.0,372.0L431.0,369.0L435.0,368.6L435.0,373.0L434.4,378.0L435.6,381.0L434.0,385.0L431.0,389.0L427.0,393.0L422.0,396.0L417.0,398.0L411.0,400.0L406.0,402.0L403.0,400.0L402.0,395.0L400.0,389.0Z" fill="#8c6bb1" stroke="#8c6bb1" stroke-width="0.6"/>
<path d="M423.0,388.0L425.6,386.0L428.0,388.0L425.6,391.0Z" fill="#88419d" stroke="#88419d" stroke-width="0.6"/>
<path d="M432.4,378.6L434.6,378.0L435.2,381.0L433.0,382.0Z" fill="#8c6bb1" stroke="#8c6bb1" stroke-width="0.6"/>
<path d="M477.0,343.0L478.0,348.0L477.0,353.0L475.0,359.0L472.0,365.0L469.0,372.0L466.0,376.6L463.0,377.0L461.0,374.0L461.6,368.0L463.0,363.0L464.0,357.0L467.0,353.0L471.0,350.0L474.0,346.0Z" fill="#8c96c6" stroke="#8c96c6" stroke-width="0.6"/>
<path d="M9.5,258.5L11.5,259.0L12.0,260.5L10.0,261.8L9.0,261.0Z" fill="#810f7c" stroke="#810f7c" stroke-width="0.6"/>
<path d="M5.3,254.5L7.0,255.0L9.0,256.5L9.2,257.3L7.0,256.3L5.5,255.2Z" fill="#810f7c" stroke="#810f7c" stroke-width="0.6"/>
<path d="M2.0,252.8L3.3,253.0L3.2,253.6L2.0,253.4Z" fill="#810f7c" stroke="#810f7c" stroke-width="0.6"/>
<g fill="none" stroke="#8e8e8e" stroke-width="0.4">
<path d="M127.6,134.1L122.4,132.9L116.5,131.8L111.8,131.2L107.6,130.6L103.5,131.4L97.6,132.4L92.9,133.5L87.1,135.3L82.4,136.5L81.4,138.2L82.1,140.0L80.9,141.2L76.5,141.8L71.8,142.6L70.8,144.1L72.4,145.3L77.6,145.3L78.8,146.5L75.9,148.0L70.6,149.2L65.3,150.8L61.8,152.7L60.2,154.7L61.2,156.7L63.5,158.2L67.6,159.1L65.3,160.6L60.0,163.3L54.1,166.1L48.2,168.2L44.1,169.4L44.5,170.4L49.4,169.4L55.3,167.6L61.2,165.3L67.1,162.4L71.2,160.6L75.3,159.4L80.0,157.6L84.7,155.3L88.8,153.5L91.8,154.1L93.5,155.1L96.5,155.3L100.0,155.9L102.9,156.5L104.1,157.6L105.3,159.4L107.1,160.6L109.4,161.8L110.4,164.7L110.8,167.6L112.7,168.5L114.1,167.1L113.5,165.3L112.4,162.9L112.9,160.0L111.8,157.6L109.4,157.6L106.5,156.2L104.7,155.3Z"/>
<path d="M57.6,148.2L60.6,147.8L61.8,148.6L59.4,149.2Z"/>
<path d="M55.3,155.9L57.6,155.5L57.9,156.5L55.9,156.8Z"/>
<path d="M70.4,163.8L73.5,162.1L76.5,161.4L75.9,162.6L72.4,164.1Z"/>
<path d="M115.0,183.4L172.0,183.6L172.4,182.6L174.0,184.0L175.0,185.0L181.0,185.5L185.0,186.0L189.0,188.5L191.5,191.5L192.8,194.0L192.0,197.0L190.0,200.0L188.0,202.2L193.0,200.5L198.0,198.5L198.5,197.5L204.0,196.5L208.0,195.0L213.0,193.5L216.5,192.0L219.0,190.0L221.5,188.0L224.5,188.0L224.5,190.0L223.5,192.0L224.0,194.0L222.0,195.0L219.0,195.5L217.0,197.0L215.0,199.5L215.5,201.5L216.0,202.5L213.5,202.0L212.0,203.0L210.0,204.0L208.0,204.0L205.5,205.0L204.0,207.0L202.0,209.5L200.5,211.5L199.5,213.5L199.0,216.0L198.5,218.5L196.5,220.0L194.0,222.0L191.0,224.5L188.0,227.0L185.0,229.5L183.5,232.0L183.0,235.0L183.6,237.0L184.0,242.0L182.4,245.4L180.4,244.0L179.0,239.0L178.0,235.0L176.0,233.0L172.0,232.0L168.0,233.0L165.0,232.0L161.0,233.0L156.0,234.0L151.0,236.0L147.0,239.0L144.5,244.0L142.0,242.5L141.0,239.5L139.5,236.0L137.5,233.5L135.0,234.5L132.5,233.5L130.5,230.0L128.0,228.0L124.0,228.5L118.5,229.5L113.5,227.5L110.0,225.5L105.5,225.8L105.4,224.2L102.5,221.7L100.4,220.8L100.0,217.1L99.2,213.3L98.8,209.2L99.6,205.4L101.2,202.5L102.9,199.2L105.0,195.8L107.5,192.1L109.6,188.3L110.4,185.4L111.6,184.8L112.6,187.4L113.6,186.2L113.4,183.4Z"/>
<path d="M105.5,225.8L110.0,225.5L113.5,227.5L118.5,229.5L124.0,228.5L128.0,228.0L130.5,230.0L132.5,233.5L135.0,234.5L137.5,233.5L139.5,236.0L141.0,239.5L142.0,242.5L144.5,244.0L143.5,248.0L143.0,252.0L144.0,256.0L146.0,259.5L149.0,262.5L153.0,263.5L157.0,260.0L158.5,256.0L162.5,255.0L166.5,255.0L166.0,257.5L164.5,260.0L163.5,262.5L160.5,263.5L159.0,265.0L156.0,265.5L156.5,268.5L154.0,269.5L152.0,272.5L149.0,270.5L145.0,270.0L141.0,269.5L137.0,267.5L133.0,265.5L129.0,263.0L125.5,260.0L124.0,258.0L125.0,255.5L124.0,252.0L122.0,248.5L120.0,245.0L118.5,242.0L116.5,239.0L115.0,236.0L113.5,232.5L113.0,229.0L112.5,228.8L110.0,229.0L109.5,231.0L110.0,233.5L111.0,236.5L111.5,239.0L113.0,242.0L113.5,245.5L115.5,248.5L116.5,250.5L115.5,251.5L114.0,249.0L111.5,246.5L111.0,243.5L109.0,241.0L106.8,239.0L108.5,236.5L107.0,233.5L106.2,230.0Z"/>
<path d="M171.2,254.0L173.0,252.0L176.5,250.8L181.0,251.0L185.0,252.5L188.5,254.5L191.5,256.5L194.5,258.0L193.0,259.0L190.0,258.5L187.5,259.0L186.5,257.0L184.0,255.0L181.0,253.5L177.5,253.0L174.0,253.5Z"/>
<path d="M185.0,263.5L187.0,262.8L189.5,263.5L189.0,264.5L186.5,264.5Z"/>
<path d="M197.0,259.0L200.0,259.5L201.0,261.0L200.0,263.5L197.5,264.0L194.5,264.0L194.0,263.0L197.0,262.5L198.0,261.0L196.5,260.0Z"/>
<path d="M200.0,259.5L202.5,259.0L205.5,261.0L207.8,262.5L206.0,263.5L203.0,263.5L201.0,264.5L200.0,263.5L201.0,261.0Z"/>
<path d="M160.5,263.5L162.5,263.0L162.0,266.5L161.0,269.0L159.5,269.0L160.0,266.0Z"/>
<path d="M159.5,271.5L162.0,269.5L166.0,269.0L169.5,269.0L171.5,270.0L172.8,271.8L170.5,273.0L168.0,273.5L166.5,275.0L164.5,276.5L163.0,275.2L161.0,274.0L159.5,273.5Z"/>
<path d="M157.0,274.5L159.5,273.5L161.0,274.0L163.0,275.2L162.5,276.2L160.0,276.0L158.0,275.5Z"/>
<path d="M166.0,282.5L167.5,281.8L169.5,283.5L171.5,284.0L172.8,286.0L173.0,289.0L171.5,289.5L170.8,287.5L169.0,286.5L167.0,285.0Z"/>
<path d="M178.8,308.1L181.2,308.8L185.0,310.0L188.8,311.9L190.0,313.1L189.4,315.0L186.9,317.5L183.8,320.0L181.9,323.1L180.0,324.4L177.5,321.9L175.6,322.5L176.9,320.6L176.2,318.8L176.9,315.6L176.2,313.8L177.5,310.6Z"/>
<path d="M190.0,313.1L191.9,315.6L194.4,317.5L197.5,317.2L200.6,317.8L201.2,320.0L200.0,321.9L197.5,323.5L195.6,325.6L194.0,328.1L193.5,330.6L194.4,333.1L196.9,335.6L200.0,336.9L201.2,338.8L203.8,339.4L204.4,340.6L205.6,344.4L205.0,347.5L204.8,351.2L204.0,355.0L203.8,359.0L203.0,358.2L200.0,356.2L196.2,353.8L192.5,351.2L189.4,348.8L187.5,345.0L185.6,341.2L183.8,337.5L181.9,333.8L180.0,330.0L177.5,326.9L175.6,324.4L175.6,322.5L177.5,321.9L180.0,324.4L181.9,323.1L183.8,320.0L186.9,317.5L189.4,315.0Z"/>
<path d="M204.4,340.6L207.5,338.8L210.6,337.2L212.5,337.5L213.1,340.6L215.0,342.5L218.8,344.0L221.9,345.2L224.4,346.9L225.0,350.0L226.2,353.1L229.4,354.4L231.2,356.9L231.9,358.8L231.2,361.9L229.4,361.2L225.6,361.9L222.5,363.8L221.9,367.5L220.0,368.5L216.2,369.4L212.8,369.8L209.4,368.1L208.1,366.2L206.9,362.5L206.2,358.8L205.5,357.5L204.0,352.0L205.5,347.0L205.6,344.4Z"/>
<path d="M221.9,367.5L222.5,363.8L225.6,361.9L229.4,361.2L231.2,361.9L232.5,365.0L235.0,368.1L238.1,369.4L239.4,371.9L241.0,374.4L240.6,378.1L242.5,379.4L242.2,381.9L238.8,382.8L235.0,382.8L232.5,381.9L233.1,378.8L231.9,375.6L228.1,373.5L225.0,371.2Z"/>
<path d="M203.1,357.5L206.2,358.8L206.9,362.5L208.1,366.2L209.4,368.1L210.6,371.2L210.0,375.6L209.0,380.0L208.5,385.0L208.1,390.0L208.8,395.0L209.8,400.0L210.0,405.0L210.6,410.0L211.2,416.2L212.8,422.5L214.4,428.8L215.6,435.0L216.2,440.0L218.8,443.8L221.9,446.2L226.9,446.9L228.1,446.9L230.0,449.4L233.8,451.9L237.5,453.1L236.9,454.0L232.5,455.2L227.5,454.0L222.5,451.9L218.8,449.4L215.0,446.2L212.5,442.5L210.6,438.8L210.0,434.4L208.5,431.9L210.0,427.5L209.0,426.2L209.4,421.9L207.8,421.2L206.5,416.2L205.6,410.0L205.0,408.8L206.0,402.5L206.2,395.0L205.6,387.5L205.0,380.0L204.8,372.5L204.4,365.0L203.8,358.1Z"/>
<path d="M209.4,368.1L212.8,369.8L216.2,369.4L220.0,368.5L221.9,367.5L225.0,371.2L228.1,373.5L231.9,375.6L233.1,378.8L232.5,381.9L235.0,382.8L238.8,382.8L242.2,381.9L241.2,384.4L238.8,386.9L236.9,389.4L235.6,392.5L235.2,396.2L235.6,400.0L237.5,401.9L240.0,404.4L240.6,406.9L239.4,410.0L238.8,410.0L236.2,412.2L232.5,413.1L230.6,414.0L231.0,416.9L229.4,418.1L226.0,418.8L225.6,420.2L228.8,421.0L229.4,422.5L226.9,423.8L227.5,427.5L225.6,428.8L224.4,430.6L225.6,433.1L228.1,433.8L229.0,435.6L226.9,436.9L227.2,440.0L225.6,442.5L226.2,445.0L228.1,446.9L226.9,446.9L221.9,446.2L218.8,443.8L216.2,440.0L215.6,435.0L214.4,428.8L212.8,422.5L211.2,416.2L210.6,410.0L210.0,405.0L209.8,400.0L208.8,395.0L208.1,390.0L208.5,385.0L209.0,380.0L210.0,375.6L210.6,371.2L209.4,368.1Z"/>
<path d="M224.0,289.5L227.0,291.5L230.0,294.5L229.4,297.5L230.0,300.6L231.2,303.8L233.1,305.6L230.6,306.5L227.5,307.5L225.6,306.2L225.0,303.1L223.8,300.0L222.5,298.1L221.5,295.0L222.0,292.0Z"/>
<path d="M230.0,294.5L235.0,296.0L238.1,296.5L238.8,299.4L238.1,302.5L236.9,304.8L233.8,305.6L233.1,305.6L231.2,303.8L230.0,300.6L229.4,297.5Z"/>
<path d="M221.0,283.0L223.5,282.8L223.5,284.5L221.5,285.0Z"/>
<path d="M343.5,198.5L346.0,197.2L351.0,197.8L357.0,198.5L362.0,199.5L365.0,200.0L368.5,200.2L369.5,201.5L368.0,203.0L365.5,204.0L364.0,206.0L363.0,208.5L362.0,210.5L360.0,212.5L357.5,214.0L354.5,215.0L352.0,216.5L350.5,217.0L349.0,215.5L347.5,214.5L347.2,214.5L347.0,212.0L347.5,209.0L348.0,206.0L348.5,203.5L347.8,201.5L345.0,201.2L344.0,200.0Z"/>
<path d="M368.0,178.4L370.5,177.4L372.9,177.7L374.8,178.8L375.2,181.2L374.3,182.4L372.4,181.5L370.5,180.2L368.9,179.6Z"/>
<path d="M375.0,189.4L376.6,187.8L379.5,187.1L382.3,187.3L384.4,188.7L383.7,190.1L381.8,190.6L379.9,191.5L378.1,190.9L376.2,191.1Z"/>
<path d="M402.1,191.5L403.9,190.9L406.3,192.0L408.2,194.4L409.6,196.2L410.5,198.1L410.1,200.0L408.6,200.9L407.2,200.0L406.3,200.9L405.4,200.7L405.4,199.5L403.9,198.1L403.5,196.2L402.5,193.9Z"/>
<path d="M402.1,198.6L403.9,198.1L404.9,200.0L403.9,201.4L402.5,200.9Z"/>
<path d="M403.9,201.4L405.4,200.7L406.3,201.9L406.6,204.2L406.3,206.6L405.4,207.5L404.4,206.1L403.9,203.8Z"/>
<path d="M406.6,201.4L408.6,200.9L411.0,201.4L411.5,202.8L409.6,203.8L406.8,204.0Z"/>
<path d="M409.1,171.8L411.5,169.9L413.8,167.5L416.2,166.1L419.9,166.6L422.8,167.1L424.2,169.4L425.6,171.3L427.0,172.2L425.1,173.6L424.6,175.1L423.2,177.4L419.9,176.9L416.2,176.8L412.4,176.5L409.6,176.5L408.8,174.1Z"/>
<path d="M417.1,185.2L419.5,184.9L421.8,186.4L423.7,188.7L424.6,190.6L423.2,191.1L422.0,192.5L421.4,190.1L419.9,188.2L418.5,186.8Z"/>
<path d="M421.9,205.0L425.0,204.4L428.8,203.1L433.8,201.9L438.8,202.2L443.8,203.1L450.0,203.8L455.0,203.5L456.2,205.6L458.1,207.5L457.8,210.6L458.5,213.1L455.0,213.1L450.0,214.4L445.6,215.0L442.5,214.4L439.4,216.2L437.5,215.0L433.8,216.2L430.0,215.0L426.9,216.2L425.0,215.6L421.2,215.0L419.4,212.8L420.0,210.0L418.8,208.1L420.6,206.5Z"/>
<path d="M417.8,204.5L420.0,203.2L422.2,203.8L421.2,205.0L418.8,206.0Z"/>
<path d="M446.9,198.1L452.5,198.8L458.1,200.0L461.2,203.1L458.1,203.8L455.0,203.1L451.2,202.5L448.8,200.0Z"/>
<path d="M455.6,203.8L458.5,204.0L460.6,206.9L462.2,209.8L460.6,209.4L458.1,206.9L456.2,205.6Z"/>
<path d="M452.5,215.0L455.0,213.5L458.8,213.8L460.6,216.9L461.9,220.0L463.8,223.1L466.2,226.9L468.8,230.0L469.4,232.2L467.5,233.1L465.0,235.0L461.2,234.4L456.9,231.9L453.1,229.4L449.4,227.5L448.8,225.0L451.9,222.5L452.8,218.8Z"/>
<path d="M440.6,227.5L443.8,226.2L447.5,224.4L449.4,227.5L446.9,229.4L448.1,231.2L445.0,233.1L441.9,234.8L440.2,233.8L441.0,230.0Z"/>
<path d="M440.6,235.0L443.8,232.5L446.9,228.8L450.0,228.5L455.0,231.2L460.0,234.0L465.0,235.0L468.1,233.5L470.0,235.6L472.5,239.4L475.6,243.8L478.1,246.9L480.0,249.4L481.9,250.6L486.9,251.9L488.1,254.4L487.5,257.5L485.0,259.4L481.2,261.2L476.2,262.5L473.1,263.1L470.6,265.6L467.5,266.2L463.8,265.6L461.2,268.1L460.0,266.2L458.1,262.5L455.6,258.8L453.1,255.0L450.6,250.6L447.5,246.2L444.4,241.2L441.9,237.5Z"/>
<path d="M457.5,181.2L460.0,178.8L466.2,177.2L475.0,178.8L483.8,178.8L481.9,172.5L487.5,170.0L496.2,168.1L500.0,169.4L505.0,171.9L511.2,170.6L515.0,173.1L520.0,176.9L525.0,178.1L530.0,179.4L536.2,181.9L538.8,183.1L536.2,186.9L532.5,189.4L531.2,193.8L528.8,195.6L531.2,198.3L528.8,201.2L525.0,199.8L519.4,198.8L514.4,200.0L511.9,203.1L508.8,203.8L505.6,203.1L502.5,199.4L498.8,196.2L495.0,196.2L490.0,194.4L483.8,191.9L478.8,193.1L478.1,197.5L478.8,201.2L476.2,203.1L474.4,201.2L470.6,198.8L468.1,195.6L469.4,193.1L471.9,190.6L467.5,188.8L462.5,189.4L459.4,186.9L457.2,183.1L457.8,180.0L459.0,185.0Z"/>
<path d="M478.8,193.1L483.8,191.9L490.0,194.4L495.0,196.2L498.8,196.2L502.5,199.4L505.6,203.1L508.8,203.8L511.9,203.1L514.4,201.2L518.1,203.1L515.0,204.4L512.5,205.6L511.2,208.1L508.1,209.4L508.8,213.1L506.9,213.5L502.5,210.6L498.1,206.9L493.8,204.4L490.0,201.9L486.2,200.0L482.5,203.1L478.8,201.2L478.1,197.5Z"/>
<path d="M476.2,205.0L476.2,203.1L478.8,201.2L482.5,203.1L486.2,200.0L490.0,201.9L493.8,204.4L498.1,206.9L502.5,210.6L506.9,213.5L505.0,215.6L501.9,216.2L500.0,218.8L496.9,217.5L493.1,215.0L488.8,213.1L485.0,211.9L481.2,213.1L478.8,211.2L477.5,208.1Z"/>
<path d="M511.9,203.1L514.4,200.0L519.4,198.8L525.0,199.8L529.4,201.5L526.2,204.4L522.5,205.6L520.6,206.9L517.5,206.9L515.0,205.0L512.5,205.6L515.0,204.4L518.1,203.1L514.4,201.2Z"/>
<path d="M508.1,209.4L511.2,208.1L512.5,205.6L515.0,205.0L517.5,206.9L520.6,206.9L521.9,209.4L523.8,211.2L523.1,212.8L520.0,212.2L517.5,213.1L515.0,211.9L512.5,212.8L510.6,213.8L508.8,213.1Z"/>
<path d="M501.2,245.6L501.9,242.5L503.8,240.0L500.0,237.5L498.8,233.5L502.5,233.1L506.2,232.5L510.0,230.0L511.2,227.5L514.4,225.6L516.2,223.1L517.5,220.0L518.1,216.2L520.0,214.4L523.8,212.8L526.2,213.8L529.4,215.6L531.0,217.5L531.2,219.4L527.5,220.6L524.4,221.9L525.6,224.4L527.5,227.5L526.9,231.2L525.0,235.0L521.9,238.1L518.8,240.6L519.4,243.8L520.6,246.9L517.5,248.8L515.0,246.5L512.5,245.3L507.5,245.0L504.0,245.3Z"/>
<path d="M531.2,219.4L533.8,220.0L536.2,222.5L536.9,225.6L535.6,227.5L538.8,230.0L541.9,232.5L541.2,235.0L543.8,236.9L548.1,238.8L552.5,240.6L556.9,241.2L560.2,241.9L560.6,239.0L561.9,238.5L562.2,240.6L565.0,241.2L568.5,240.2L568.5,238.5L571.2,236.2L575.6,234.4L578.8,236.2L577.5,238.1L579.4,240.0L577.5,242.5L575.6,245.6L574.4,248.8L573.1,252.5L571.9,251.2L571.2,247.5L570.0,246.2L568.8,244.4L565.6,243.8L563.8,241.9L560.6,243.1L561.5,247.5L562.2,251.2L563.1,253.1L560.6,254.4L558.8,256.2L557.5,259.4L555.0,262.5L551.9,265.6L548.8,268.1L546.5,270.0L545.6,273.8L546.2,278.1L545.8,282.5L545.0,286.2L543.8,289.4L542.1,290.8L540.6,289.0L538.8,286.5L536.0,282.0L533.1,276.2L530.6,271.2L528.8,266.2L527.5,261.2L526.9,256.9L524.4,255.0L521.2,255.6L518.8,253.8L520.0,251.9L517.5,248.8L520.6,246.9L519.4,243.8L518.8,240.6L521.9,238.1L525.0,235.0L526.9,231.2L527.5,227.5L525.6,224.4L524.4,221.9L527.5,220.6Z"/>
<path d="M541.9,232.5L544.4,231.9L548.1,233.8L552.5,236.2L556.9,238.1L560.6,239.0L560.2,241.9L556.9,241.2L552.5,240.6L548.1,238.8L543.8,236.9L541.2,235.0Z"/>
<path d="M561.9,238.5L564.4,237.8L568.1,238.5L568.5,240.2L565.0,241.2L562.2,240.6Z"/>
<path d="M560.6,243.1L563.8,241.9L565.6,243.8L568.8,244.4L570.0,246.2L570.6,250.0L569.4,251.9L568.1,250.0L566.2,253.1L563.8,253.8L563.1,253.1L562.2,251.2L561.5,247.5Z"/>
<path d="M546.5,286.0L548.0,285.5L549.5,287.5L550.8,291.0L551.0,294.0L549.5,295.3L547.5,294.5L546.2,291.0L546.0,288.0Z"/>
<path d="M579.4,240.0L581.2,237.5L583.1,240.6L584.4,245.0L586.2,247.5L588.8,251.9L591.2,253.1L592.5,255.6L590.0,258.1L586.9,259.4L585.0,262.5L585.6,265.6L586.9,268.8L588.1,273.8L590.0,278.8L590.6,282.5L589.8,283.8L588.8,280.0L587.5,275.0L585.6,270.0L584.4,268.1L581.9,268.8L580.0,269.8L578.5,266.9L577.5,262.5L575.0,259.4L573.1,255.6L573.1,252.5L574.4,248.8L575.6,245.6L577.5,242.5Z"/>
<path d="M529.4,201.5L531.2,198.3L528.8,195.6L531.2,193.8L532.5,189.4L536.2,186.9L538.8,183.1L540.0,182.5L541.2,185.0L547.5,188.8L550.0,191.9L555.0,193.8L560.0,196.2L565.0,198.8L571.2,200.0L577.5,200.6L583.8,201.9L588.8,200.0L593.1,197.5L595.0,194.4L597.5,191.2L603.1,190.6L607.5,188.8L603.1,186.2L598.1,185.6L597.5,181.9L598.5,178.0L600.0,175.0L604.0,172.6L609.0,173.4L614.0,177.0L620.0,181.0L626.0,184.0L628.3,184.1L632.0,186.4L635.2,185.5L637.0,186.9L637.5,191.9L634.7,193.7L636.1,196.0L636.6,199.2L633.4,201.5L630.6,203.4L628.3,205.7L627.9,207.0L624.7,208.4L622.4,207.5L621.5,204.7L619.6,204.7L617.8,207.0L615.0,209.3L616.4,211.2L619.2,211.6L621.5,213.5L623.7,212.1L627.0,213.5L626.0,215.3L623.7,216.7L622.4,219.0L623.7,221.2L627.0,223.0L631.0,228.0L632.5,232.0L634.0,235.0L633.0,239.0L631.5,243.0L630.0,247.0L627.0,250.0L623.0,252.5L617.0,255.0L613.0,256.0L609.0,255.0L606.9,256.2L605.0,254.4L602.5,251.9L598.1,251.2L595.0,253.1L592.5,255.6L591.2,253.1L588.8,251.9L586.2,247.5L584.4,245.0L583.1,240.6L581.2,237.5L579.4,240.0L578.8,236.2L575.6,234.4L571.2,236.2L568.5,238.5L564.4,237.8L561.9,238.1L560.6,239.0L556.9,238.1L552.5,236.2L548.1,233.8L544.4,231.9L541.9,232.5L538.8,230.0L535.6,227.5L536.9,225.6L536.2,222.5L533.8,220.0L531.2,219.4L531.0,217.5L529.4,215.6L526.2,213.8L523.8,212.8L523.8,211.2L521.9,209.4L520.6,206.9L522.5,205.6L526.2,204.4Z"/>
<path d="M540.0,182.5L547.5,179.4L557.5,180.0L558.8,176.2L565.0,178.1L572.5,180.0L577.5,180.6L585.0,182.5L591.2,181.2L597.5,181.9L598.1,185.6L603.1,186.2L607.5,188.8L603.1,190.6L597.5,191.2L595.0,194.4L593.1,197.5L588.8,200.0L583.8,201.9L577.5,200.6L571.2,200.0L565.0,198.8L560.0,196.2L555.0,193.8L550.0,191.9L547.5,188.8L541.2,185.0Z"/>
<path d="M627.9,207.0L628.3,205.7L630.6,203.4L633.4,201.5L636.6,199.2L637.5,200.6L637.0,203.8L635.2,206.1L636.6,208.4L638.0,210.7L635.2,211.6L632.5,212.1L631.1,210.7L630.6,208.4L628.8,208.0Z"/>
<path d="M635.2,211.6L638.0,210.7L640.2,212.1L642.5,215.3L643.9,218.5L642.5,220.3L640.2,221.1L638.4,220.3L637.5,217.6L636.6,214.8L635.7,213.0Z"/>
<path d="M655.8,192.8L657.7,193.7L660.4,195.6L664.1,195.1L666.4,197.0L666.8,198.3L664.5,199.7L663.6,201.5L660.9,199.7L658.6,200.6L656.7,198.8L656.3,196.5Z"/>
<path d="M660.0,203.4L662.2,204.7L664.5,207.5L665.9,211.2L666.8,214.8L668.2,217.6L667.3,219.9L664.1,220.8L661.3,222.2L660.0,223.5L657.7,222.2L654.9,221.7L652.2,223.1L650.3,224.9L648.0,225.4L646.7,224.5L649.0,221.7L651.7,219.0L654.9,218.0L657.2,216.7L657.7,214.4L660.0,213.0L661.3,210.2L660.9,207.0L659.5,205.2Z"/>
<path d="M647.1,224.9L649.4,225.4L651.2,226.7L652.6,227.7L652.2,230.0L650.8,230.2L649.9,228.1L648.5,227.2Z"/>
<path d="M653.1,223.5L656.3,222.3L657.7,223.1L655.8,224.9L654.0,225.4Z"/>
<path d="M649.0,225.5L651.0,227.0L652.5,229.5L651.0,230.5Z"/>
<path d="M585.0,262.5L587.5,259.4L590.6,258.1L592.5,260.6L593.8,264.4L597.5,264.4L601.9,265.6L603.8,268.8L603.1,272.5L599.4,273.8L597.2,275.6L598.1,278.8L595.6,277.5L593.1,276.9L591.9,280.6L591.2,284.4L592.5,287.5L595.0,291.2L597.5,294.4L596.2,295.6L593.8,295.6L593.8,293.8L590.6,290.0L589.0,286.9L589.8,282.5L590.6,278.1L589.4,273.8L587.5,270.0L585.6,266.2Z"/>
<path d="M590.6,258.1L593.1,254.4L595.0,253.1L597.5,256.2L600.0,259.4L603.1,263.1L606.2,266.9L608.5,270.6L609.0,274.4L606.9,275.0L605.0,273.1L603.1,272.5L603.8,268.8L601.9,265.6L597.5,264.4L593.8,264.4L592.5,260.6Z"/>
<path d="M595.0,253.1L598.1,251.2L602.5,251.9L605.0,254.4L606.9,256.2L604.4,258.1L603.1,260.6L605.0,263.8L608.1,266.9L611.2,271.2L613.1,275.6L613.1,280.0L611.2,283.1L608.1,285.6L605.0,288.1L604.0,286.2L604.4,283.8L607.5,283.1L609.4,279.4L609.0,274.4L608.5,270.6L606.2,266.9L603.1,263.1L600.0,259.4L597.5,256.2Z"/>
<path d="M597.2,275.6L599.4,273.8L603.1,272.5L605.0,273.1L606.9,275.0L609.0,274.4L609.4,279.4L607.5,283.1L604.4,283.8L601.2,282.8L598.8,280.0L598.1,278.8Z"/>
<path d="M609.8,260.2L611.9,259.0L614.0,260.0L613.5,262.2L611.2,263.2L609.5,262.0Z"/>
<path d="M593.8,295.6L596.2,294.8L598.8,296.9L600.6,300.0L601.9,303.8L603.5,307.5L601.9,308.1L599.4,305.6L596.9,302.5L595.0,299.4Z"/>
<path d="M616.2,306.9L618.8,305.6L622.5,303.1L626.2,300.0L628.8,296.9L631.2,293.5L633.8,293.8L636.2,296.5L637.5,297.5L635.0,299.0L632.5,299.4L630.0,300.0L627.5,302.5L625.0,305.0L621.2,306.9L618.1,308.8Z"/>
<path d="M614.8,308.1L616.2,306.9L618.1,308.8L621.2,306.9L625.0,305.0L627.5,302.5L630.0,300.0L632.5,299.4L635.0,299.0L635.6,302.5L636.9,307.5L635.0,310.0L633.8,313.8L631.9,317.5L630.0,321.2L626.2,320.6L623.1,319.4L618.8,318.8L616.9,315.0L615.0,311.9Z"/>
<path d="M582.5,297.2L586.9,296.9L590.0,300.0L593.8,303.8L598.1,308.8L601.9,313.8L605.6,318.1L608.1,322.5L608.5,326.2L606.9,328.1L603.8,327.5L601.9,325.0L598.8,320.0L595.0,315.0L591.2,310.0L587.5,305.0L585.0,300.6Z"/>
<path d="M637.2,263.1L640.6,263.1L641.9,266.9L641.2,270.6L643.1,273.1L646.2,274.4L648.8,276.9L650.6,279.4L651.2,281.9L648.8,281.2L646.2,279.4L643.8,278.1L641.2,276.9L639.4,275.0L637.5,272.5L636.5,268.8L636.9,265.6Z"/>
<path d="M642.5,280.6L645.0,281.2L646.2,284.4L647.5,286.9L645.6,286.2L643.8,283.8Z"/>
<path d="M649.4,281.9L651.5,283.8L651.2,286.2L649.8,285.0Z"/>
<path d="M643.8,290.6L646.9,289.8L650.0,288.1L652.5,286.2L653.8,289.4L654.0,293.1L652.5,296.2L650.6,295.6L649.4,293.1L647.5,291.9L645.0,292.8Z"/>
<path d="M632.5,288.8L635.0,285.6L637.2,281.9L637.9,282.5L635.6,286.2L633.5,289.4Z"/>
<path d="M637.5,316.2L640.0,310.0L643.8,308.1L648.8,308.1L651.9,306.9L651.2,308.8L647.5,310.0L644.4,311.2L642.5,313.8L645.0,315.0L646.9,313.8L647.5,315.0L645.0,316.9L643.1,317.5L645.0,321.2L646.5,325.6L645.6,328.1L644.0,326.9L642.5,321.2L640.6,318.8L640.0,322.5L639.8,326.9L638.1,327.5L637.2,325.0L636.9,320.0Z"/>
<path d="M657.5,306.2L659.4,306.9L660.0,310.6L658.8,312.5L657.8,310.0Z"/>
<path d="M653.8,319.4L656.2,318.8L656.9,320.2L654.4,320.6Z"/>
<path d="M658.1,318.5L662.5,318.1L664.4,319.4L661.2,320.0Z"/>
<path d="M605.7,328.0L609.9,327.2L616.5,328.8L623.1,330.5L628.8,333.0L627.2,334.3L621.4,333.0L614.8,331.7L609.0,330.5L606.2,329.3Z"/>
<path d="M631.7,333.8L636.3,332.6L636.6,334.3L632.6,335.1Z"/>
<path d="M638.3,333.8L644.5,332.6L645.4,334.0L639.2,335.1Z"/>
<path d="M637.6,336.3L639.9,336.6L639.2,337.9Z"/>
<path d="M647.0,336.3L651.1,333.8L655.8,333.0L655.3,334.6L651.1,336.3L647.8,337.9Z"/>
<path d="M664.3,314.0L668.5,312.3L672.3,313.2L672.6,316.5L670.1,318.1L672.6,319.8L675.9,318.1L679.2,316.1L683.3,315.6L687.8,318.1L687.1,334.6L684.2,333.0L680.0,333.3L680.9,330.5L682.5,327.2L679.2,324.7L675.9,322.2L672.6,321.4L670.1,318.9L667.6,316.1L665.2,315.6Z"/>
<path d="M687.8,318.1L692.4,319.8L697.4,323.1L700.7,326.4L704.0,328.0L702.3,330.5L704.8,333.8L708.9,337.9L706.4,338.8L702.3,336.3L698.2,333.8L694.1,333.8L689.9,335.4L687.1,334.6Z"/>
<path d="M704.8,325.5L708.9,326.4L713.0,323.1L714.2,319.8L715.2,321.4L714.2,324.7L710.6,327.2L705.6,327.2Z"/>
<path d="M718.8,324.7L720.5,327.2L721.8,329.3L720.1,328.0Z"/>
<path d="M619.0,371.0L624.0,367.0L630.0,364.0L636.0,361.0L640.0,357.0L643.0,353.0L647.0,350.0L652.0,347.6L657.0,348.4L661.0,344.0L665.0,342.0L668.0,340.0L670.0,342.4L676.0,343.0L675.0,346.0L673.6,349.0L677.0,352.0L681.0,356.0L684.0,357.0L686.0,351.0L688.0,344.0L690.0,339.0L692.0,343.0L694.0,349.0L696.0,353.0L697.0,358.0L700.0,362.0L702.0,367.0L705.0,372.0L706.0,378.0L705.0,384.0L703.0,389.0L700.0,394.0L696.0,399.0L692.0,403.0L689.0,407.0L685.0,409.0L680.0,411.6L677.0,411.0L674.0,412.4L670.0,411.6L667.0,409.0L665.0,405.0L664.0,401.0L663.0,399.0L660.0,403.0L659.0,399.0L657.0,398.0L653.0,395.0L648.0,394.0L643.0,395.0L638.0,397.0L633.0,399.0L628.0,400.0L623.0,401.6L618.0,402.4L614.4,400.4L616.0,397.0L618.0,392.0L618.4,387.0L617.0,382.0L618.0,377.0Z"/>
<path d="M668.4,418.0L672.0,417.4L676.4,418.0L675.0,421.0L672.0,423.6L668.4,424.4L667.6,421.0Z"/>
<path d="M766.0,357.0L769.0,355.6L770.0,357.6L767.0,359.0Z"/>
<path d="M770.0,354.4L773.6,353.0L774.0,354.0L771.0,355.6Z"/>
<path d="M335.0,238.0L340.0,233.0L344.0,226.0L350.0,218.0L355.0,220.0L359.0,222.0L360.0,226.0L358.0,230.0L352.0,233.0L347.0,235.0L344.0,237.0L344.0,238.6Z"/>
<path d="M359.0,222.0L368.0,218.0L380.0,215.0L381.0,221.0L384.0,227.0L385.0,233.0L386.0,241.0L389.0,248.0L380.0,254.0L372.0,261.0L370.6,261.6L368.0,258.6L360.0,252.0L352.0,246.0L344.0,240.0L344.0,237.0L347.0,235.0L352.0,233.0L358.0,230.0L360.0,226.0Z"/>
<path d="M380.0,215.0L385.0,214.0L387.0,218.0L385.6,222.0L388.0,225.0L386.0,229.0L384.4,227.0L381.0,221.0Z"/>
<path d="M324.4,255.6L332.8,254.4L333.1,250.6L335.6,250.0L336.2,243.1L343.1,241.9L343.1,240.0L349.4,245.6L349.0,248.8L350.0,270.0L336.9,271.2L335.6,272.5L332.5,270.0L329.4,268.1L325.6,269.4L325.0,265.0L325.0,260.0Z"/>
<path d="M349.4,245.6L370.6,260.6L371.9,261.2L371.9,268.1L369.4,270.6L364.4,271.9L360.6,271.9L356.2,275.0L353.1,278.1L351.9,281.9L350.6,284.4L348.1,283.1L345.6,284.4L345.0,284.4L343.8,280.6L340.0,279.4L336.9,276.2L335.6,272.5L336.9,271.2L350.0,270.0L349.0,248.8Z"/>
<path d="M371.9,261.2L370.6,260.6L389.4,250.0L396.2,251.2L396.9,251.9L398.1,258.8L397.5,266.2L395.6,271.2L395.0,275.0L391.2,276.2L386.2,275.6L381.2,276.2L376.2,275.0L373.1,275.6L371.2,278.1L370.0,280.0L368.1,278.8L366.2,276.9L364.4,275.6L364.4,271.9L369.4,270.6L371.9,268.1Z"/>
<path d="M396.9,251.9L399.4,250.6L416.9,260.0L416.2,266.9L416.9,271.2L413.8,273.8L414.4,277.5L413.1,281.2L410.0,285.0L406.2,288.8L401.2,291.2L397.5,290.0L395.6,286.9L398.1,284.4L396.9,280.0L395.0,277.5L395.0,275.0L395.6,271.2L397.5,266.2L398.1,258.8Z"/>
<path d="M323.1,272.5L325.6,269.4L329.4,268.1L332.5,270.0L335.6,272.5L336.9,276.2L336.2,278.8L331.2,278.8L327.5,279.0L325.0,278.8L323.8,276.2Z"/>
<path d="M324.1,275.2L331.0,274.9L331.0,276.1L324.1,276.6Z"/>
<path d="M325.0,278.8L327.5,279.0L330.6,279.4L330.0,281.9L327.5,282.5L325.6,280.6Z"/>
<path d="M327.5,282.5L330.0,281.9L330.6,279.4L336.2,278.8L336.9,276.2L340.0,279.4L343.8,280.6L345.0,284.4L343.8,287.5L343.1,290.6L340.6,288.8L338.8,287.5L337.5,285.0L334.4,284.4L332.5,286.2L330.6,285.0Z"/>
<path d="M332.5,286.2L334.4,284.4L337.5,285.0L338.8,287.5L337.5,290.6L335.0,291.9L333.1,289.4Z"/>
<path d="M337.5,290.6L338.8,287.5L340.6,288.8L343.1,290.6L344.4,293.8L345.0,297.5L341.9,295.0L338.8,292.5Z"/>
<path d="M343.8,287.5L345.0,284.4L348.1,283.1L350.6,284.4L353.8,285.0L355.6,285.6L356.2,290.0L355.6,293.8L356.2,297.5L351.2,298.1L345.6,299.4L345.0,297.5L344.4,293.8L343.1,290.6Z"/>
<path d="M350.6,284.4L351.9,281.9L353.1,278.1L356.2,275.0L360.6,271.9L364.4,271.9L364.4,275.6L366.2,276.9L368.1,278.8L365.6,280.6L365.0,282.2L363.1,282.5L360.0,282.2L356.2,282.8L355.6,285.6L353.8,285.0Z"/>
<path d="M355.6,285.6L356.2,282.8L360.0,282.2L363.1,282.5L363.8,287.5L364.4,292.5L364.4,295.6L360.0,297.5L356.2,297.5L355.6,293.8L356.2,290.0Z"/>
<path d="M363.1,282.5L365.0,282.2L365.6,287.5L366.2,295.0L364.4,295.6L364.4,292.5L363.8,287.5Z"/>
<path d="M365.0,282.2L365.6,280.6L368.1,278.8L370.0,280.0L371.0,283.1L370.0,287.5L369.4,294.4L366.2,295.0L365.6,287.5Z"/>
<path d="M370.0,280.0L371.2,278.1L373.1,275.6L376.2,275.0L381.2,276.2L386.2,275.6L391.2,276.2L395.0,275.0L395.0,277.5L396.2,280.0L394.4,283.1L392.5,286.2L390.0,290.0L388.1,292.5L385.0,293.8L382.5,297.5L380.0,299.4L376.9,298.8L373.8,296.2L372.5,294.4L369.4,294.4L370.0,287.5L371.0,283.1Z"/>
<path d="M395.0,277.5L396.9,280.0L398.1,284.4L395.6,286.9L397.5,290.0L396.2,293.8L398.1,297.5L399.4,302.5L400.0,305.0L395.0,305.6L390.0,305.0L385.6,305.0L383.8,300.6L382.5,297.5L385.0,293.8L388.1,292.5L390.0,290.0L392.5,286.2L394.4,283.1L396.2,280.0Z"/>
<path d="M397.5,290.0L401.2,291.2L406.2,288.8L410.0,285.0L413.2,281.2L415.6,283.0L420.0,286.2L423.8,291.2L427.0,296.0L422.0,298.0L416.0,297.4L411.0,299.0L406.0,301.0L402.0,304.0L401.0,304.0L399.0,299.0L397.0,294.0Z"/>
<path d="M385.0,308.0L389.0,308.0L389.0,305.0L395.0,305.0L397.0,309.0L396.0,314.0L392.0,318.0L391.0,322.0L388.0,317.0L384.0,312.0Z"/>
<path d="M402.0,304.0L406.0,301.0L411.0,299.0L416.0,297.4L422.0,298.0L427.0,296.0L432.0,299.0L434.0,302.0L433.0,307.0L432.0,311.0L431.6,314.6L430.4,318.6L431.2,323.0L431.0,325.0L432.0,331.0L429.0,334.0L428.0,338.0L429.0,342.0L426.0,343.0L421.0,341.0L418.0,340.6L415.0,335.0L414.0,330.0L409.0,329.0L405.0,331.0L403.0,327.0L396.0,326.6L392.0,327.0L391.0,324.0L393.0,324.0L397.0,322.0L400.0,317.0L403.0,311.0L399.0,320.0L401.0,315.0L404.0,309.0Z"/>
<path d="M434.0,302.0L436.0,301.0L440.0,301.0L443.0,303.0L442.0,310.0L439.0,314.0L434.0,314.6L431.6,314.6L432.0,311.0L433.0,307.0Z"/>
<path d="M442.0,300.0L448.0,298.0L453.0,301.0L459.0,300.6L458.0,307.0L459.0,314.0L456.0,319.0L453.0,323.0L448.0,319.0L442.0,315.0L439.0,314.0L442.0,310.0L443.0,303.0Z"/>
<path d="M430.0,314.6L433.0,314.0L433.6,317.4L430.4,318.6Z"/>
<path d="M430.4,318.6L433.2,317.8L433.6,322.0L431.2,323.0Z"/>
<path d="M433.0,314.0L437.0,314.0L441.0,312.0L444.0,314.0L448.0,318.0L453.0,323.0L452.4,329.0L454.0,335.0L455.0,339.0L448.0,341.0L441.6,342.0L440.0,336.0L437.0,335.0L432.0,333.0L432.0,331.0L431.0,325.0L431.2,323.0L433.6,322.0L433.6,317.4Z"/>
<path d="M439.4,290.0L441.9,286.2L443.1,281.9L445.0,277.5L447.5,274.4L450.6,273.1L454.4,273.8L456.9,276.2L459.4,280.0L460.6,283.1L463.1,286.2L467.5,288.8L471.9,290.0L468.8,293.1L465.6,296.2L462.5,298.1L458.8,298.8L455.0,299.8L450.6,299.4L446.2,298.1L442.5,295.0Z"/>
<path d="M461.9,282.8L466.2,281.9L472.5,280.6L480.0,279.4L480.6,281.2L479.4,285.0L477.5,290.0L474.4,295.0L471.2,300.0L467.0,307.0L461.0,314.0L459.0,314.0L458.0,307.0L459.0,300.6L465.6,296.2L468.8,293.1L471.9,290.0L467.5,288.8L463.1,286.2Z"/>
<path d="M392.0,327.0L396.0,326.6L403.0,327.0L405.0,331.0L409.0,329.0L414.0,330.0L415.0,335.0L418.0,340.6L414.0,342.0L413.0,348.0L414.0,354.0L420.0,356.6L414.0,357.4L407.0,358.0L399.0,357.4L390.0,356.6L390.0,350.0L393.0,343.0L394.0,337.0L392.0,331.0Z"/>
<path d="M390.0,322.0L391.6,321.8L392.0,324.6L390.6,325.0Z"/>
<path d="M418.0,340.6L421.0,341.0L426.0,343.0L429.0,342.0L428.0,338.0L429.0,334.0L432.0,333.0L437.0,335.0L439.0,340.0L438.0,346.0L435.0,348.0L432.0,350.0L429.0,352.0L426.0,355.0L423.0,357.0L420.0,356.6L414.0,354.0L413.0,348.0L414.0,342.0Z"/>
<path d="M437.0,335.0L440.0,336.0L441.6,342.0L444.0,348.0L443.6,354.0L441.6,354.6L441.0,350.0L439.0,346.0L439.0,340.0Z"/>
<path d="M441.6,342.0L448.0,341.0L455.0,339.0L456.0,348.0L454.0,352.0L449.0,356.0L444.0,360.0L441.0,363.0L442.0,368.0L443.0,372.0L439.0,375.0L436.0,378.0L435.6,381.0L434.4,378.0L435.0,373.0L435.0,368.6L437.0,365.0L437.0,359.0L435.0,353.0L432.0,350.6L435.0,348.0L438.0,346.0L439.0,346.0L441.0,350.0L441.6,354.6L443.6,354.0L444.0,348.0Z"/>
<path d="M411.0,358.6L420.0,357.0L423.0,357.4L424.0,362.0L427.0,366.0L431.0,369.0L428.0,372.0L424.0,374.0L420.0,377.0L416.0,378.0L413.0,381.0L410.0,380.0L409.0,374.0L408.4,369.0L410.0,365.0Z"/>
<path d="M401.0,385.0L405.0,387.0L408.0,384.0L408.4,380.0L410.0,380.0L413.0,381.0L416.0,378.0L420.0,377.0L424.0,374.0L428.0,372.0L431.0,369.0L435.0,368.6L435.0,373.0L434.4,378.0L435.6,381.0L434.0,385.0L431.0,389.0L427.0,393.0L422.0,396.0L417.0,398.0L411.0,400.0L406.0,402.0L403.0,400.0L402.0,395.0L400.0,389.0Z"/>
<path d="M423.0,388.0L425.6,386.0L428.0,388.0L425.6,391.0Z"/>
<path d="M432.4,378.6L434.6,378.0L435.2,381.0L433.0,382.0Z"/>
<path d="M477.0,343.0L478.0,348.0L477.0,353.0L475.0,359.0L472.0,365.0L469.0,372.0L466.0,376.6L463.0,377.0L461.0,374.0L461.6,368.0L463.0,363.0L464.0,357.0L467.0,353.0L471.0,350.0L474.0,346.0Z"/>
<path d="M9.5,258.5L11.5,259.0L12.0,260.5L10.0,261.8L9.0,261.0Z"/>
<path d="M5.3,254.5L7.0,255.0L9.0,256.5L9.2,257.3L7.0,256.3L5.5,255.2Z"/>
<path d="M2.0,252.8L3.3,253.0L3.2,253.6L2.0,253.4Z"/>
</g></g>
<text x="99.3" y="494.5" font-size="13" fill="#5b5b5b" font-family='"Liberation Sans", sans-serif' textLength="45.6" lengthAdjust="spacing">No data</text>
<rect x="99" y="501.5" width="47.5" height="11" fill="url(#h)" stroke="#b0b0b0" stroke-width="0.6"/>
<line x1="122.7" y1="498.5" x2="122.7" y2="501.5" stroke="#6e6e6e" stroke-width="0.6"/>
<rect x="166.00" y="501.5" width="58.85" height="11" fill="#f7fcfd"/>
<rect x="224.55" y="501.5" width="58.85" height="11" fill="#e0ecf4"/>
<rect x="283.10" y="501.5" width="58.85" height="11" fill="#bfd3e6"/>
<rect x="341.65" y="501.5" width="58.85" height="11" fill="#9ebcda"/>
<rect x="400.20" y="501.5" width="58.85" height="11" fill="#8c96c6"/>
<rect x="458.75" y="501.5" width="58.85" height="11" fill="#8c6bb1"/>
<rect x="517.30" y="501.5" width="58.85" height="11" fill="#88419d"/>
<rect x="575.85" y="501.5" width="58.85" height="11" fill="#810f7c"/>
<rect x="634.40" y="501.5" width="58.85" height="11" fill="#670662"/>
<rect x="692.95" y="501.5" width="58.85" height="11" fill="#4d004b"/>
<rect x="166.00" y="501.5" width="585.50" height="11" fill="none" stroke="#9a9a9a" stroke-opacity="0.7" stroke-width="0.5"/>
<line x1="166.00" y1="498.7" x2="166.00" y2="512.5" stroke="#7d7d7d" stroke-opacity="0.75" stroke-width="0.5"/>
<text x="166.00" y="494.5" font-size="13" fill="#5b5b5b" font-family='"Liberation Sans", sans-serif' text-anchor="middle">0%</text>
<line x1="224.55" y1="498.7" x2="224.55" y2="512.5" stroke="#7d7d7d" stroke-opacity="0.75" stroke-width="0.5"/>
<text x="224.55" y="494.5" font-size="13" fill="#5b5b5b" font-family='"Liberation Sans", sans-serif' text-anchor="middle">10%</text>
<line x1="283.10" y1="498.7" x2="283.10" y2="512.5" stroke="#7d7d7d" stroke-opacity="0.75" stroke-width="0.5"/>
<text x="283.10" y="494.5" font-size="13" fill="#5b5b5b" font-family='"Liberation Sans", sans-serif' text-anchor="middle">20%</text>
<line x1="341.65" y1="498.7" x2="341.65" y2="512.5" stroke="#7d7d7d" stroke-opacity="0.75" stroke-width="0.5"/>
<text x="341.65" y="494.5" font-size="13" fill="#5b5b5b" font-family='"Liberation Sans", sans-serif' text-anchor="middle">30%</text>
<line x1="400.20" y1="498.7" x2="400.20" y2="512.5" stroke="#7d7d7d" stroke-opacity="0.75" stroke-width="0.5"/>
<text x="400.20" y="494.5" font-size="13" fill="#5b5b5b" font-family='"Liberation Sans", sans-serif' text-anchor="middle">40%</text>
<line x1="458.75" y1="498.7" x2="458.75" y2="512.5" stroke="#7d7d7d" stroke-opacity="0.75" stroke-width="0.5"/>
<text x="458.75" y="494.5" font-size="13" fill="#5b5b5b" font-family='"Liberation Sans", sans-serif' text-anchor="middle">50%</text>
<line x1="517.30" y1="498.7" x2="517.30" y2="512.5" stroke="#7d7d7d" stroke-opacity="0.75" stroke-width="0.5"/>
<text x="517.30" y="494.5" font-size="13" fill="#5b5b5b" font-family='"Liberation Sans", sans-serif' text-anchor="middle">60%</text>
<line x1="575.85" y1="498.7" x2="575.85" y2="512.5" stroke="#7d7d7d" stroke-opacity="0.75" stroke-width="0.5"/>
<text x="575.85" y="494.5" font-size="13" fill="#5b5b5b" font-family='"Liberation Sans", sans-serif' text-anchor="middle">70%</text>
<line x1="634.40" y1="498.7" x2="634.40" y2="512.5" stroke="#7d7d7d" stroke-opacity="0.75" stroke-width="0.5"/>
<text x="634.40" y="494.5" font-size="13" fill="#5b5b5b" font-family='"Liberation Sans", sans-serif' text-anchor="middle">80%</text>
<line x1="692.95" y1="498.7" x2="692.95" y2="512.5" stroke="#7d7d7d" stroke-opacity="0.75" stroke-width="0.5"/>
<text x="692.95" y="494.5" font-size="13" fill="#5b5b5b" font-family='"Liberation Sans", sans-serif' text-anchor="middle">90%</text>
<text x="751.50" y="494.5" font-size="13" fill="#5b5b5b" font-family='"Liberation Sans", sans-serif' text-anchor="middle">100%</text>
<text x="16.5" y="545" font-size="13" fill="#5b5b5b" font-family='"Liberation Sans", sans-serif' font-weight="bold" textLength="72" lengthAdjust="spacing">Data source:</text>
<text x="92.3" y="545" font-size="13" fill="#5b5b5b" font-family='"Liberation Sans", sans-serif' textLength="723.4" lengthAdjust="spacing">Demographic and Health Surveys (DHS), Multiple Indicator Cluster Surveys (MICS), and UN Population Division, via World Bank</text>
<text x="16.5" y="560.6" font-size="13" fill="#5b5b5b" font-family='"Liberation Sans", sans-serif' textLength="36.5" lengthAdjust="spacing">(2026)</text>
<text x="16.5" y="580.6" font-size="13" fill="#5b5b5b" font-family='"Liberation Sans", sans-serif' textLength="300.8" lengthAdjust="spacing">OurWorldinData.org/marriages-and-divorces | CC BY</text>
</svg></body></html>
